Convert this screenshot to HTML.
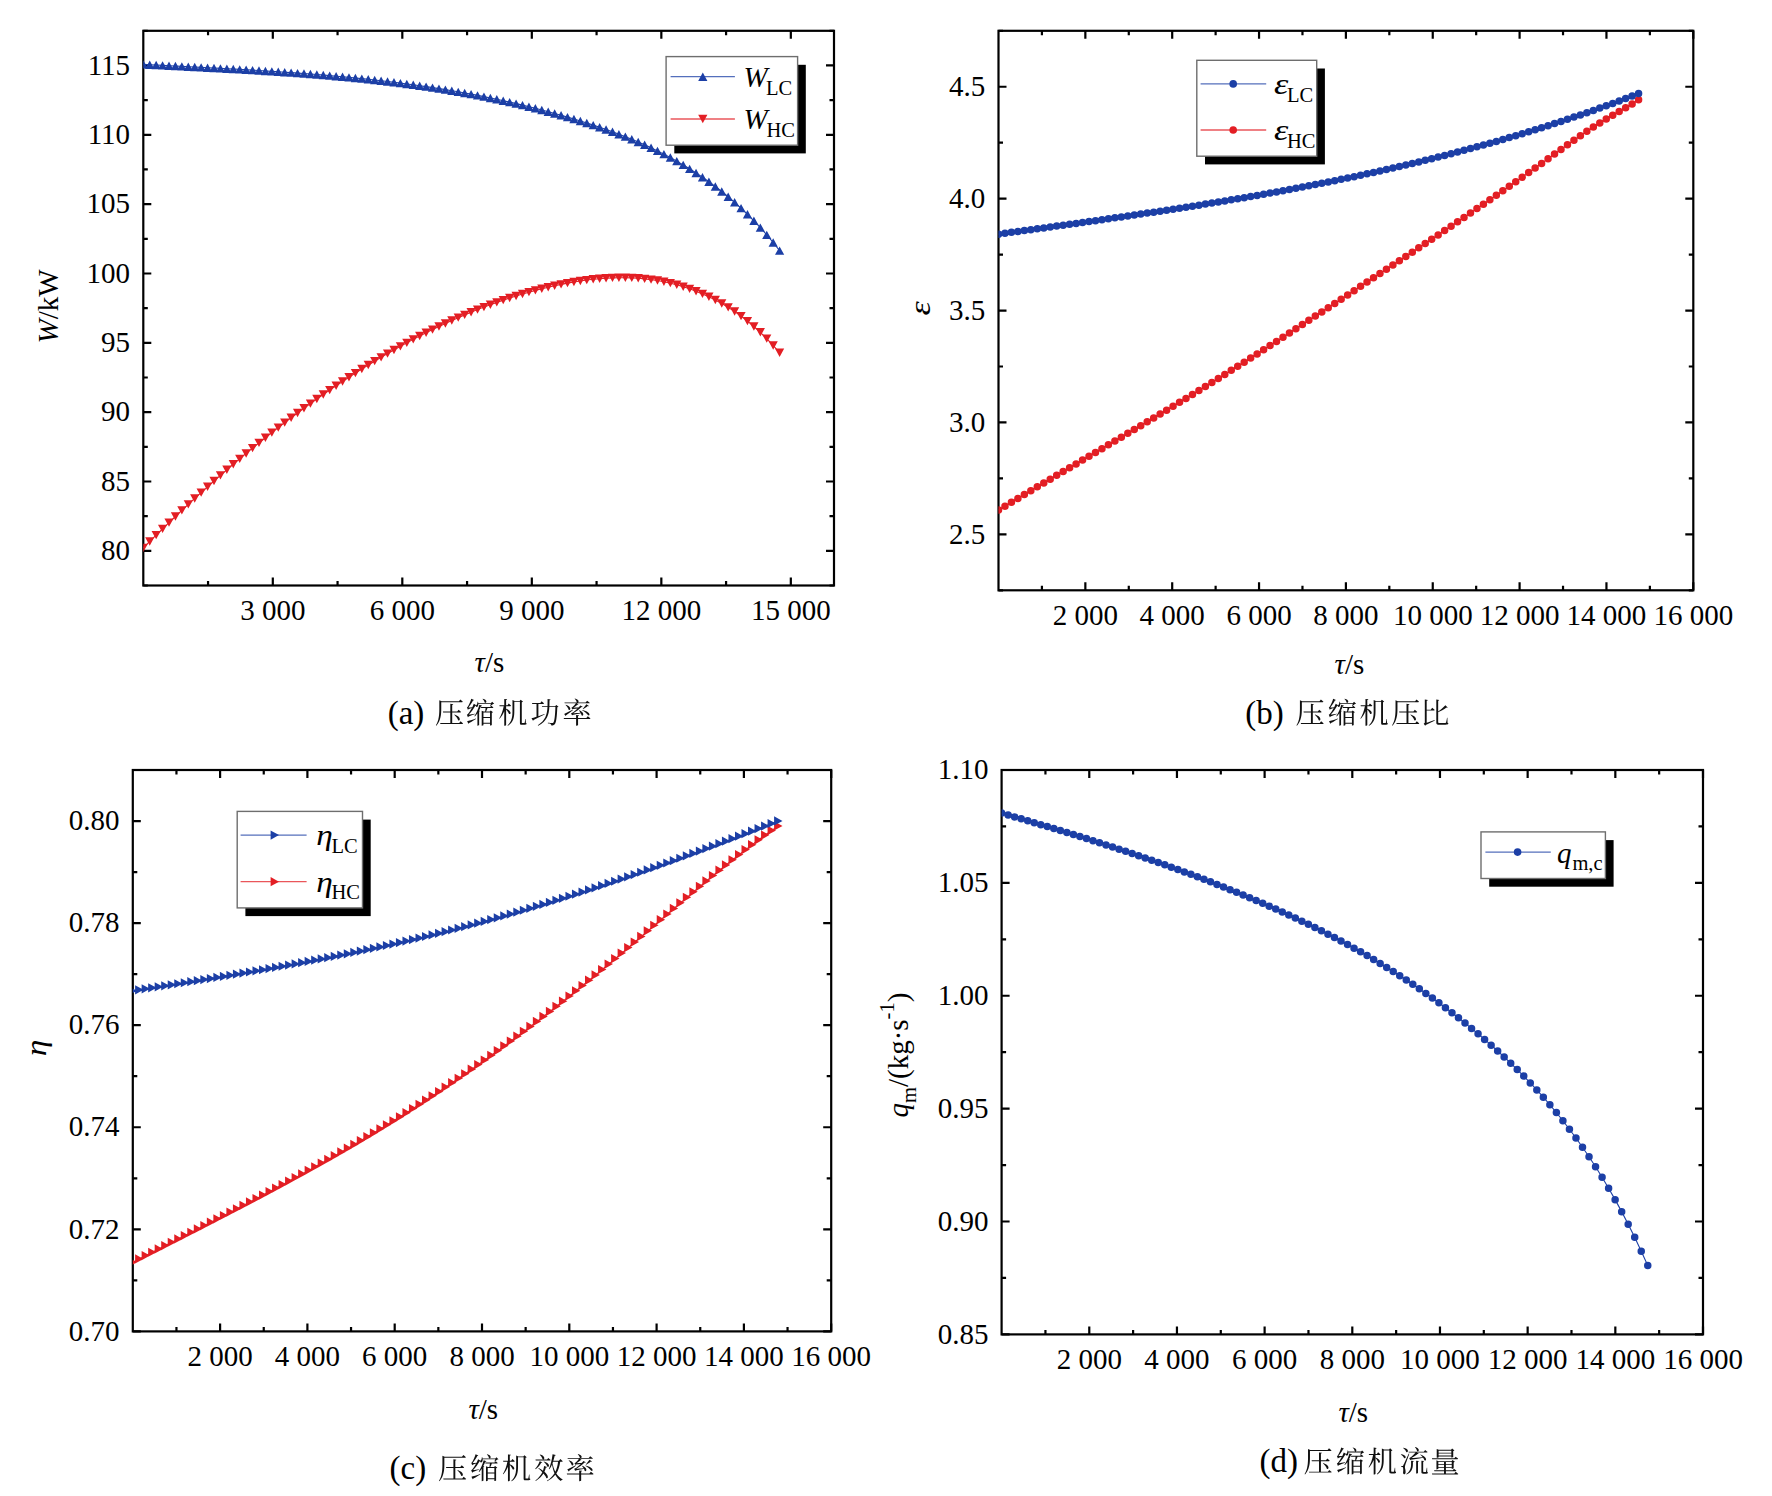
<!DOCTYPE html><html><head><meta charset='utf-8'><style>html,body{margin:0;padding:0;background:#fff;}svg{display:block}</style></head><body>
<svg width='1772' height='1496' viewBox='0 0 1772 1496'>
<rect width='1772' height='1496' fill='#fff'/>
<defs><clipPath id='ca'><rect x='143.3' y='30.8' width='690.7' height='554.7'/></clipPath><clipPath id='cb'><rect x='998.5' y='30.8' width='694.8' height='559.5'/></clipPath><clipPath id='cc'><rect x='132.8' y='770' width='698.4' height='561.4'/></clipPath><clipPath id='cd'><rect x='1001.6' y='770' width='701.4' height='564.4'/></clipPath></defs>
<rect x='143.3' y='30.8' width='690.7' height='554.7' fill='none' stroke='#000' stroke-width='2.2'/>
<path d='M272.81 585.5v-8M272.81 30.8v8M402.31 585.5v-8M402.31 30.8v8M531.82 585.5v-8M531.82 30.8v8M661.33 585.5v-8M661.33 30.8v8M790.83 585.5v-8M790.83 30.8v8M208.05 585.5v-4.5M208.05 30.8v4.5M337.56 585.5v-4.5M337.56 30.8v4.5M467.07 585.5v-4.5M467.07 30.8v4.5M596.57 585.5v-4.5M596.57 30.8v4.5M726.08 585.5v-4.5M726.08 30.8v4.5M143.3 550.83h8M834 550.83h-8M143.3 481.49h8M834 481.49h-8M143.3 412.16h8M834 412.16h-8M143.3 342.82h8M834 342.82h-8M143.3 273.48h8M834 273.48h-8M143.3 204.14h8M834 204.14h-8M143.3 134.81h8M834 134.81h-8M143.3 65.47h8M834 65.47h-8M143.3 585.5h4.5M834 585.5h-4.5M143.3 516.16h4.5M834 516.16h-4.5M143.3 446.82h4.5M834 446.82h-4.5M143.3 377.49h4.5M834 377.49h-4.5M143.3 308.15h4.5M834 308.15h-4.5M143.3 238.81h4.5M834 238.81h-4.5M143.3 169.47h4.5M834 169.47h-4.5M143.3 100.14h4.5M834 100.14h-4.5M143.3 30.8h4.5M834 30.8h-4.5' stroke='#000' stroke-width='2.2' fill='none'/>
<text x='272.81' y='620.4' font-family='Liberation Serif' font-size='29' text-anchor='middle'>3 000</text>
<text x='402.31' y='620.4' font-family='Liberation Serif' font-size='29' text-anchor='middle'>6 000</text>
<text x='531.82' y='620.4' font-family='Liberation Serif' font-size='29' text-anchor='middle'>9 000</text>
<text x='661.33' y='620.4' font-family='Liberation Serif' font-size='29' text-anchor='middle'>12 000</text>
<text x='790.83' y='620.4' font-family='Liberation Serif' font-size='29' text-anchor='middle'>15 000</text>
<text x='130.1' y='560.03' font-family='Liberation Serif' font-size='29' text-anchor='end'>80</text>
<text x='130.1' y='490.69' font-family='Liberation Serif' font-size='29' text-anchor='end'>85</text>
<text x='130.1' y='421.36' font-family='Liberation Serif' font-size='29' text-anchor='end'>90</text>
<text x='130.1' y='352.02' font-family='Liberation Serif' font-size='29' text-anchor='end'>95</text>
<text x='130.1' y='282.68' font-family='Liberation Serif' font-size='29' text-anchor='end'>100</text>
<text x='130.1' y='213.34' font-family='Liberation Serif' font-size='29' text-anchor='end'>105</text>
<text x='130.1' y='144.01' font-family='Liberation Serif' font-size='29' text-anchor='end'>110</text>
<text x='130.1' y='74.67' font-family='Liberation Serif' font-size='29' text-anchor='end'>115</text>
<rect x='998.5' y='30.8' width='694.8' height='559.5' fill='none' stroke='#000' stroke-width='2.2'/>
<path d='M1085.35 590.3v-8M1085.35 30.8v8M1172.2 590.3v-8M1172.2 30.8v8M1259.05 590.3v-8M1259.05 30.8v8M1345.9 590.3v-8M1345.9 30.8v8M1432.75 590.3v-8M1432.75 30.8v8M1519.6 590.3v-8M1519.6 30.8v8M1606.45 590.3v-8M1606.45 30.8v8M1693.3 590.3v-8M1693.3 30.8v8M1041.92 590.3v-4.5M1041.92 30.8v4.5M1128.78 590.3v-4.5M1128.78 30.8v4.5M1215.62 590.3v-4.5M1215.62 30.8v4.5M1302.47 590.3v-4.5M1302.47 30.8v4.5M1389.33 590.3v-4.5M1389.33 30.8v4.5M1476.17 590.3v-4.5M1476.17 30.8v4.5M1563.03 590.3v-4.5M1563.03 30.8v4.5M1649.88 590.3v-4.5M1649.88 30.8v4.5M998.5 534.35h8M1693.3 534.35h-8M998.5 422.45h8M1693.3 422.45h-8M998.5 310.55h8M1693.3 310.55h-8M998.5 198.65h8M1693.3 198.65h-8M998.5 86.75h8M1693.3 86.75h-8M998.5 590.3h4.5M1693.3 590.3h-4.5M998.5 478.4h4.5M1693.3 478.4h-4.5M998.5 366.5h4.5M1693.3 366.5h-4.5M998.5 254.6h4.5M1693.3 254.6h-4.5M998.5 142.7h4.5M1693.3 142.7h-4.5M998.5 30.8h4.5M1693.3 30.8h-4.5' stroke='#000' stroke-width='2.2' fill='none'/>
<text x='1085.35' y='625.2' font-family='Liberation Serif' font-size='29' text-anchor='middle'>2 000</text>
<text x='1172.2' y='625.2' font-family='Liberation Serif' font-size='29' text-anchor='middle'>4 000</text>
<text x='1259.05' y='625.2' font-family='Liberation Serif' font-size='29' text-anchor='middle'>6 000</text>
<text x='1345.9' y='625.2' font-family='Liberation Serif' font-size='29' text-anchor='middle'>8 000</text>
<text x='1432.75' y='625.2' font-family='Liberation Serif' font-size='29' text-anchor='middle'>10 000</text>
<text x='1519.6' y='625.2' font-family='Liberation Serif' font-size='29' text-anchor='middle'>12 000</text>
<text x='1606.45' y='625.2' font-family='Liberation Serif' font-size='29' text-anchor='middle'>14 000</text>
<text x='1693.3' y='625.2' font-family='Liberation Serif' font-size='29' text-anchor='middle'>16 000</text>
<text x='985.3' y='543.55' font-family='Liberation Serif' font-size='29' text-anchor='end'>2.5</text>
<text x='985.3' y='431.65' font-family='Liberation Serif' font-size='29' text-anchor='end'>3.0</text>
<text x='985.3' y='319.75' font-family='Liberation Serif' font-size='29' text-anchor='end'>3.5</text>
<text x='985.3' y='207.85' font-family='Liberation Serif' font-size='29' text-anchor='end'>4.0</text>
<text x='985.3' y='95.95' font-family='Liberation Serif' font-size='29' text-anchor='end'>4.5</text>
<rect x='132.8' y='770' width='698.4' height='561.4' fill='none' stroke='#000' stroke-width='2.2'/>
<path d='M220.1 1331.4v-8M220.1 770v8M307.4 1331.4v-8M307.4 770v8M394.7 1331.4v-8M394.7 770v8M482 1331.4v-8M482 770v8M569.3 1331.4v-8M569.3 770v8M656.6 1331.4v-8M656.6 770v8M743.9 1331.4v-8M743.9 770v8M831.2 1331.4v-8M831.2 770v8M176.45 1331.4v-4.5M176.45 770v4.5M263.75 1331.4v-4.5M263.75 770v4.5M351.05 1331.4v-4.5M351.05 770v4.5M438.35 1331.4v-4.5M438.35 770v4.5M525.65 1331.4v-4.5M525.65 770v4.5M612.95 1331.4v-4.5M612.95 770v4.5M700.25 1331.4v-4.5M700.25 770v4.5M787.55 1331.4v-4.5M787.55 770v4.5M132.8 1331.4h8M831.2 1331.4h-8M132.8 1229.33h8M831.2 1229.33h-8M132.8 1127.25h8M831.2 1127.25h-8M132.8 1025.18h8M831.2 1025.18h-8M132.8 923.11h8M831.2 923.11h-8M132.8 821.04h8M831.2 821.04h-8M132.8 1280.36h4.5M831.2 1280.36h-4.5M132.8 1178.29h4.5M831.2 1178.29h-4.5M132.8 1076.22h4.5M831.2 1076.22h-4.5M132.8 974.15h4.5M831.2 974.15h-4.5M132.8 872.07h4.5M831.2 872.07h-4.5M132.8 770h4.5M831.2 770h-4.5' stroke='#000' stroke-width='2.2' fill='none'/>
<text x='220.1' y='1366.3' font-family='Liberation Serif' font-size='29' text-anchor='middle'>2 000</text>
<text x='307.4' y='1366.3' font-family='Liberation Serif' font-size='29' text-anchor='middle'>4 000</text>
<text x='394.7' y='1366.3' font-family='Liberation Serif' font-size='29' text-anchor='middle'>6 000</text>
<text x='482' y='1366.3' font-family='Liberation Serif' font-size='29' text-anchor='middle'>8 000</text>
<text x='569.3' y='1366.3' font-family='Liberation Serif' font-size='29' text-anchor='middle'>10 000</text>
<text x='656.6' y='1366.3' font-family='Liberation Serif' font-size='29' text-anchor='middle'>12 000</text>
<text x='743.9' y='1366.3' font-family='Liberation Serif' font-size='29' text-anchor='middle'>14 000</text>
<text x='831.2' y='1366.3' font-family='Liberation Serif' font-size='29' text-anchor='middle'>16 000</text>
<text x='119.6' y='1340.6' font-family='Liberation Serif' font-size='29' text-anchor='end'>0.70</text>
<text x='119.6' y='1238.53' font-family='Liberation Serif' font-size='29' text-anchor='end'>0.72</text>
<text x='119.6' y='1136.45' font-family='Liberation Serif' font-size='29' text-anchor='end'>0.74</text>
<text x='119.6' y='1034.38' font-family='Liberation Serif' font-size='29' text-anchor='end'>0.76</text>
<text x='119.6' y='932.31' font-family='Liberation Serif' font-size='29' text-anchor='end'>0.78</text>
<text x='119.6' y='830.24' font-family='Liberation Serif' font-size='29' text-anchor='end'>0.80</text>
<rect x='1001.6' y='770' width='701.4' height='564.4' fill='none' stroke='#000' stroke-width='2.2'/>
<path d='M1089.28 1334.4v-8M1089.28 770v8M1176.95 1334.4v-8M1176.95 770v8M1264.62 1334.4v-8M1264.62 770v8M1352.3 1334.4v-8M1352.3 770v8M1439.97 1334.4v-8M1439.97 770v8M1527.65 1334.4v-8M1527.65 770v8M1615.33 1334.4v-8M1615.33 770v8M1703 1334.4v-8M1703 770v8M1045.44 1334.4v-4.5M1045.44 770v4.5M1133.11 1334.4v-4.5M1133.11 770v4.5M1220.79 1334.4v-4.5M1220.79 770v4.5M1308.46 1334.4v-4.5M1308.46 770v4.5M1396.14 1334.4v-4.5M1396.14 770v4.5M1483.81 1334.4v-4.5M1483.81 770v4.5M1571.49 1334.4v-4.5M1571.49 770v4.5M1659.16 1334.4v-4.5M1659.16 770v4.5M1001.6 1334.4h8M1703 1334.4h-8M1001.6 1221.52h8M1703 1221.52h-8M1001.6 1108.64h8M1703 1108.64h-8M1001.6 995.76h8M1703 995.76h-8M1001.6 882.88h8M1703 882.88h-8M1001.6 770h8M1703 770h-8M1001.6 1277.96h4.5M1703 1277.96h-4.5M1001.6 1165.08h4.5M1703 1165.08h-4.5M1001.6 1052.2h4.5M1703 1052.2h-4.5M1001.6 939.32h4.5M1703 939.32h-4.5M1001.6 826.44h4.5M1703 826.44h-4.5' stroke='#000' stroke-width='2.2' fill='none'/>
<text x='1089.28' y='1369.3' font-family='Liberation Serif' font-size='29' text-anchor='middle'>2 000</text>
<text x='1176.95' y='1369.3' font-family='Liberation Serif' font-size='29' text-anchor='middle'>4 000</text>
<text x='1264.62' y='1369.3' font-family='Liberation Serif' font-size='29' text-anchor='middle'>6 000</text>
<text x='1352.3' y='1369.3' font-family='Liberation Serif' font-size='29' text-anchor='middle'>8 000</text>
<text x='1439.97' y='1369.3' font-family='Liberation Serif' font-size='29' text-anchor='middle'>10 000</text>
<text x='1527.65' y='1369.3' font-family='Liberation Serif' font-size='29' text-anchor='middle'>12 000</text>
<text x='1615.33' y='1369.3' font-family='Liberation Serif' font-size='29' text-anchor='middle'>14 000</text>
<text x='1703' y='1369.3' font-family='Liberation Serif' font-size='29' text-anchor='middle'>16 000</text>
<text x='988.4' y='1343.6' font-family='Liberation Serif' font-size='29' text-anchor='end'>0.85</text>
<text x='988.4' y='1230.72' font-family='Liberation Serif' font-size='29' text-anchor='end'>0.90</text>
<text x='988.4' y='1117.84' font-family='Liberation Serif' font-size='29' text-anchor='end'>0.95</text>
<text x='988.4' y='1004.96' font-family='Liberation Serif' font-size='29' text-anchor='end'>1.00</text>
<text x='988.4' y='892.08' font-family='Liberation Serif' font-size='29' text-anchor='end'>1.05</text>
<text x='988.4' y='779.2' font-family='Liberation Serif' font-size='29' text-anchor='end'>1.10</text>
<g clip-path='url(#ca)'>
<polyline points='143.3,547.89 149.73,541.48 156.15,535.13 162.58,528.85 169.01,522.64 175.44,516.5 181.86,510.42 188.29,504.41 194.72,498.47 201.15,492.6 207.57,486.8 214,481.06 220.43,475.4 226.86,469.81 233.28,464.28 239.71,458.83 246.14,453.45 252.56,448.14 258.99,442.9 265.42,437.73 271.85,432.64 278.27,427.62 284.7,422.67 291.13,417.79 297.56,412.98 303.98,408.25 310.41,403.6 316.84,399.02 323.27,394.51 329.69,390.08 336.12,385.72 342.55,381.44 348.98,377.23 355.4,373.1 361.83,369.05 368.26,365.07 374.68,361.17 381.11,357.34 387.54,353.6 393.97,349.93 400.39,346.34 406.82,342.83 413.25,339.39 419.68,336.04 426.1,332.77 432.53,329.58 438.96,326.47 445.39,323.44 451.81,320.5 458.24,317.64 464.67,314.87 471.09,312.19 477.52,309.6 483.95,307.09 490.38,304.68 496.8,302.36 503.23,300.13 509.66,297.99 516.09,295.95 522.51,294.01 528.94,292.16 535.37,290.4 541.8,288.75 548.22,287.2 554.65,285.74 561.08,284.39 567.5,283.14 573.93,282 580.36,280.98 586.79,280.08 593.21,279.31 599.64,278.68 606.07,278.2 612.5,277.87 618.92,277.71 625.35,277.71 631.78,277.9 638.21,278.27 644.63,278.83 651.06,279.6 657.49,280.57 663.92,281.76 670.34,283.17 676.77,284.82 683.2,286.71 689.62,288.84 696.05,291.23 702.48,293.89 708.91,296.81 715.33,300.02 721.76,303.52 728.19,307.36 734.62,311.55 741.04,316.11 747.47,321.08 753.9,326.48 760.33,332.32 766.75,338.64 773.18,345.47 779.61,352.82' fill='none' stroke='#e31e24' stroke-width='1.1'/>
<path d='M138.7 543.69L147.9 543.69L143.3 552.09ZM145.13 537.28L154.33 537.28L149.73 545.68ZM151.55 530.93L160.75 530.93L156.15 539.33ZM157.98 524.65L167.18 524.65L162.58 533.05ZM164.41 518.44L173.61 518.44L169.01 526.84ZM170.84 512.3L180.04 512.3L175.44 520.7ZM177.26 506.22L186.46 506.22L181.86 514.62ZM183.69 500.21L192.89 500.21L188.29 508.61ZM190.12 494.27L199.32 494.27L194.72 502.67ZM196.55 488.4L205.75 488.4L201.15 496.8ZM202.97 482.6L212.17 482.6L207.57 491ZM209.4 476.86L218.6 476.86L214 485.26ZM215.83 471.2L225.03 471.2L220.43 479.6ZM222.26 465.61L231.46 465.61L226.86 474.01ZM228.68 460.08L237.88 460.08L233.28 468.48ZM235.11 454.63L244.31 454.63L239.71 463.03ZM241.54 449.25L250.74 449.25L246.14 457.65ZM247.96 443.94L257.16 443.94L252.56 452.34ZM254.39 438.7L263.59 438.7L258.99 447.1ZM260.82 433.53L270.02 433.53L265.42 441.93ZM267.25 428.44L276.45 428.44L271.85 436.84ZM273.67 423.42L282.87 423.42L278.27 431.82ZM280.1 418.47L289.3 418.47L284.7 426.87ZM286.53 413.59L295.73 413.59L291.13 421.99ZM292.96 408.78L302.16 408.78L297.56 417.18ZM299.38 404.05L308.58 404.05L303.98 412.45ZM305.81 399.4L315.01 399.4L310.41 407.8ZM312.24 394.82L321.44 394.82L316.84 403.22ZM318.67 390.31L327.87 390.31L323.27 398.71ZM325.09 385.88L334.29 385.88L329.69 394.28ZM331.52 381.52L340.72 381.52L336.12 389.92ZM337.95 377.24L347.15 377.24L342.55 385.64ZM344.38 373.03L353.58 373.03L348.98 381.43ZM350.8 368.9L360 368.9L355.4 377.3ZM357.23 364.85L366.43 364.85L361.83 373.25ZM363.66 360.87L372.86 360.87L368.26 369.27ZM370.08 356.97L379.28 356.97L374.68 365.37ZM376.51 353.14L385.71 353.14L381.11 361.54ZM382.94 349.4L392.14 349.4L387.54 357.8ZM389.37 345.73L398.57 345.73L393.97 354.13ZM395.79 342.14L404.99 342.14L400.39 350.54ZM402.22 338.63L411.42 338.63L406.82 347.03ZM408.65 335.19L417.85 335.19L413.25 343.59ZM415.08 331.84L424.28 331.84L419.68 340.24ZM421.5 328.57L430.7 328.57L426.1 336.97ZM427.93 325.38L437.13 325.38L432.53 333.78ZM434.36 322.27L443.56 322.27L438.96 330.67ZM440.79 319.24L449.99 319.24L445.39 327.64ZM447.21 316.3L456.41 316.3L451.81 324.7ZM453.64 313.44L462.84 313.44L458.24 321.84ZM460.07 310.67L469.27 310.67L464.67 319.07ZM466.49 307.99L475.69 307.99L471.09 316.39ZM472.92 305.4L482.12 305.4L477.52 313.8ZM479.35 302.89L488.55 302.89L483.95 311.29ZM485.78 300.48L494.98 300.48L490.38 308.88ZM492.2 298.16L501.4 298.16L496.8 306.56ZM498.63 295.93L507.83 295.93L503.23 304.33ZM505.06 293.79L514.26 293.79L509.66 302.19ZM511.49 291.75L520.69 291.75L516.09 300.15ZM517.91 289.81L527.11 289.81L522.51 298.21ZM524.34 287.96L533.54 287.96L528.94 296.36ZM530.77 286.2L539.97 286.2L535.37 294.6ZM537.2 284.55L546.4 284.55L541.8 292.95ZM543.62 283L552.82 283L548.22 291.4ZM550.05 281.54L559.25 281.54L554.65 289.94ZM556.48 280.19L565.68 280.19L561.08 288.59ZM562.9 278.94L572.1 278.94L567.5 287.34ZM569.33 277.8L578.53 277.8L573.93 286.2ZM575.76 276.78L584.96 276.78L580.36 285.18ZM582.19 275.88L591.39 275.88L586.79 284.28ZM588.61 275.11L597.81 275.11L593.21 283.51ZM595.04 274.48L604.24 274.48L599.64 282.88ZM601.47 274L610.67 274L606.07 282.4ZM607.9 273.67L617.1 273.67L612.5 282.07ZM614.32 273.51L623.52 273.51L618.92 281.91ZM620.75 273.51L629.95 273.51L625.35 281.91ZM627.18 273.7L636.38 273.7L631.78 282.1ZM633.61 274.07L642.81 274.07L638.21 282.47ZM640.03 274.63L649.23 274.63L644.63 283.03ZM646.46 275.4L655.66 275.4L651.06 283.8ZM652.89 276.37L662.09 276.37L657.49 284.77ZM659.32 277.56L668.52 277.56L663.92 285.96ZM665.74 278.97L674.94 278.97L670.34 287.37ZM672.17 280.62L681.37 280.62L676.77 289.02ZM678.6 282.51L687.8 282.51L683.2 290.91ZM685.02 284.64L694.22 284.64L689.62 293.04ZM691.45 287.03L700.65 287.03L696.05 295.43ZM697.88 289.69L707.08 289.69L702.48 298.09ZM704.31 292.61L713.51 292.61L708.91 301.01ZM710.73 295.82L719.93 295.82L715.33 304.22ZM717.16 299.32L726.36 299.32L721.76 307.72ZM723.59 303.16L732.79 303.16L728.19 311.56ZM730.02 307.35L739.22 307.35L734.62 315.75ZM736.44 311.91L745.64 311.91L741.04 320.31ZM742.87 316.88L752.07 316.88L747.47 325.28ZM749.3 322.28L758.5 322.28L753.9 330.68ZM755.73 328.12L764.93 328.12L760.33 336.52ZM762.15 334.44L771.35 334.44L766.75 342.84ZM768.58 341.27L777.78 341.27L773.18 349.67ZM775.01 348.62L784.21 348.62L779.61 357.02Z' fill='#e31e24'/>
</g>
<g clip-path='url(#ca)'>
<polyline points='143.3,64.36 149.73,64.71 156.15,65.04 162.58,65.38 169.01,65.71 175.44,66.04 181.86,66.37 188.29,66.7 194.72,67.03 201.15,67.36 207.57,67.69 214,68.03 220.43,68.37 226.86,68.71 233.28,69.06 239.71,69.42 246.14,69.78 252.56,70.16 258.99,70.54 265.42,70.93 271.85,71.34 278.27,71.75 284.7,72.18 291.13,72.62 297.56,73.08 303.98,73.55 310.41,74.04 316.84,74.55 323.27,75.07 329.69,75.62 336.12,76.18 342.55,76.76 348.98,77.37 355.4,78 361.83,78.65 368.26,79.32 374.68,80.02 381.11,80.75 387.54,81.51 393.97,82.29 400.39,83.1 406.82,83.94 413.25,84.81 419.68,85.71 426.1,86.64 432.53,87.61 438.96,88.61 445.39,89.65 451.81,90.72 458.24,91.83 464.67,92.97 471.09,94.16 477.52,95.38 483.95,96.65 490.38,97.95 496.8,99.3 503.23,100.68 509.66,102.12 516.09,103.59 522.51,105.12 528.94,106.69 535.37,108.3 541.8,109.97 548.22,111.68 554.65,113.44 561.08,115.25 567.5,117.12 573.93,119.04 580.36,121.01 586.79,123.03 593.21,125.12 599.64,127.26 606.07,129.48 612.5,131.79 618.92,134.18 625.35,136.67 631.78,139.27 638.21,141.99 644.63,144.82 651.06,147.79 657.49,150.9 663.92,154.16 670.34,157.57 676.77,161.15 683.2,164.9 689.62,168.83 696.05,172.96 702.48,177.28 708.91,181.8 715.33,186.55 721.76,191.53 728.19,196.77 734.62,202.3 741.04,208.12 747.47,214.27 753.9,220.76 760.33,227.61 766.75,234.86 773.18,242.51 779.61,250.58' fill='none' stroke='#1c3fa6' stroke-width='1.1'/>
<path d='M143.3 60.16L147.9 68.56L138.7 68.56ZM149.73 60.51L154.33 68.91L145.13 68.91ZM156.15 60.84L160.75 69.24L151.55 69.24ZM162.58 61.18L167.18 69.58L157.98 69.58ZM169.01 61.51L173.61 69.91L164.41 69.91ZM175.44 61.84L180.04 70.24L170.84 70.24ZM181.86 62.17L186.46 70.57L177.26 70.57ZM188.29 62.5L192.89 70.9L183.69 70.9ZM194.72 62.83L199.32 71.23L190.12 71.23ZM201.15 63.16L205.75 71.56L196.55 71.56ZM207.57 63.49L212.17 71.89L202.97 71.89ZM214 63.83L218.6 72.23L209.4 72.23ZM220.43 64.17L225.03 72.57L215.83 72.57ZM226.86 64.51L231.46 72.91L222.26 72.91ZM233.28 64.86L237.88 73.26L228.68 73.26ZM239.71 65.22L244.31 73.62L235.11 73.62ZM246.14 65.58L250.74 73.98L241.54 73.98ZM252.56 65.96L257.16 74.36L247.96 74.36ZM258.99 66.34L263.59 74.74L254.39 74.74ZM265.42 66.73L270.02 75.13L260.82 75.13ZM271.85 67.14L276.45 75.54L267.25 75.54ZM278.27 67.55L282.87 75.95L273.67 75.95ZM284.7 67.98L289.3 76.38L280.1 76.38ZM291.13 68.42L295.73 76.82L286.53 76.82ZM297.56 68.88L302.16 77.28L292.96 77.28ZM303.98 69.35L308.58 77.75L299.38 77.75ZM310.41 69.84L315.01 78.24L305.81 78.24ZM316.84 70.35L321.44 78.75L312.24 78.75ZM323.27 70.87L327.87 79.27L318.67 79.27ZM329.69 71.42L334.29 79.82L325.09 79.82ZM336.12 71.98L340.72 80.38L331.52 80.38ZM342.55 72.56L347.15 80.96L337.95 80.96ZM348.98 73.17L353.58 81.57L344.38 81.57ZM355.4 73.8L360 82.2L350.8 82.2ZM361.83 74.45L366.43 82.85L357.23 82.85ZM368.26 75.12L372.86 83.52L363.66 83.52ZM374.68 75.82L379.28 84.22L370.08 84.22ZM381.11 76.55L385.71 84.95L376.51 84.95ZM387.54 77.31L392.14 85.71L382.94 85.71ZM393.97 78.09L398.57 86.49L389.37 86.49ZM400.39 78.9L404.99 87.3L395.79 87.3ZM406.82 79.74L411.42 88.14L402.22 88.14ZM413.25 80.61L417.85 89.01L408.65 89.01ZM419.68 81.51L424.28 89.91L415.08 89.91ZM426.1 82.44L430.7 90.84L421.5 90.84ZM432.53 83.41L437.13 91.81L427.93 91.81ZM438.96 84.41L443.56 92.81L434.36 92.81ZM445.39 85.45L449.99 93.85L440.79 93.85ZM451.81 86.52L456.41 94.92L447.21 94.92ZM458.24 87.63L462.84 96.03L453.64 96.03ZM464.67 88.77L469.27 97.17L460.07 97.17ZM471.09 89.96L475.69 98.36L466.49 98.36ZM477.52 91.18L482.12 99.58L472.92 99.58ZM483.95 92.45L488.55 100.85L479.35 100.85ZM490.38 93.75L494.98 102.15L485.78 102.15ZM496.8 95.1L501.4 103.5L492.2 103.5ZM503.23 96.48L507.83 104.88L498.63 104.88ZM509.66 97.92L514.26 106.32L505.06 106.32ZM516.09 99.39L520.69 107.79L511.49 107.79ZM522.51 100.92L527.11 109.32L517.91 109.32ZM528.94 102.49L533.54 110.89L524.34 110.89ZM535.37 104.1L539.97 112.5L530.77 112.5ZM541.8 105.77L546.4 114.17L537.2 114.17ZM548.22 107.48L552.82 115.88L543.62 115.88ZM554.65 109.24L559.25 117.64L550.05 117.64ZM561.08 111.05L565.68 119.45L556.48 119.45ZM567.5 112.92L572.1 121.32L562.9 121.32ZM573.93 114.84L578.53 123.24L569.33 123.24ZM580.36 116.81L584.96 125.21L575.76 125.21ZM586.79 118.83L591.39 127.23L582.19 127.23ZM593.21 120.92L597.81 129.32L588.61 129.32ZM599.64 123.06L604.24 131.46L595.04 131.46ZM606.07 125.28L610.67 133.68L601.47 133.68ZM612.5 127.59L617.1 135.99L607.9 135.99ZM618.92 129.98L623.52 138.38L614.32 138.38ZM625.35 132.47L629.95 140.87L620.75 140.87ZM631.78 135.07L636.38 143.47L627.18 143.47ZM638.21 137.79L642.81 146.19L633.61 146.19ZM644.63 140.62L649.23 149.02L640.03 149.02ZM651.06 143.59L655.66 151.99L646.46 151.99ZM657.49 146.7L662.09 155.1L652.89 155.1ZM663.92 149.96L668.52 158.36L659.32 158.36ZM670.34 153.37L674.94 161.77L665.74 161.77ZM676.77 156.95L681.37 165.35L672.17 165.35ZM683.2 160.7L687.8 169.1L678.6 169.1ZM689.62 164.63L694.22 173.03L685.02 173.03ZM696.05 168.76L700.65 177.16L691.45 177.16ZM702.48 173.08L707.08 181.48L697.88 181.48ZM708.91 177.6L713.51 186L704.31 186ZM715.33 182.35L719.93 190.75L710.73 190.75ZM721.76 187.33L726.36 195.73L717.16 195.73ZM728.19 192.57L732.79 200.97L723.59 200.97ZM734.62 198.1L739.22 206.5L730.02 206.5ZM741.04 203.92L745.64 212.32L736.44 212.32ZM747.47 210.07L752.07 218.47L742.87 218.47ZM753.9 216.56L758.5 224.96L749.3 224.96ZM760.33 223.41L764.93 231.81L755.73 231.81ZM766.75 230.66L771.35 239.06L762.15 239.06ZM773.18 238.31L777.78 246.71L768.58 246.71ZM779.61 246.38L784.21 254.78L775.01 254.78Z' fill='#1c3fa6'/>
</g>
<g clip-path='url(#cb)'>
<polyline points='998.5,510.12 1004.97,506.21 1011.43,502.32 1017.9,498.44 1024.36,494.57 1030.83,490.71 1037.29,486.86 1043.76,483.02 1050.22,479.19 1056.69,475.36 1063.15,471.54 1069.62,467.72 1076.09,463.91 1082.55,460.1 1089.02,456.28 1095.48,452.47 1101.95,448.66 1108.41,444.84 1114.88,441.02 1121.34,437.19 1127.81,433.36 1134.28,429.52 1140.74,425.68 1147.21,421.82 1153.67,417.95 1160.14,414.07 1166.6,410.18 1173.07,406.28 1179.53,402.36 1186,398.43 1192.46,394.47 1198.93,390.5 1205.4,386.51 1211.86,382.5 1218.33,378.47 1224.79,374.42 1231.26,370.35 1237.72,366.26 1244.19,362.16 1250.65,358.03 1257.12,353.89 1263.59,349.74 1270.05,345.58 1276.52,341.4 1282.98,337.21 1289.45,333 1295.91,328.79 1302.38,324.57 1308.84,320.35 1315.31,316.11 1321.78,311.88 1328.24,307.63 1334.71,303.38 1341.17,299.13 1347.64,294.88 1354.1,290.63 1360.57,286.37 1367.03,282.11 1373.5,277.85 1379.96,273.59 1386.43,269.32 1392.9,265.04 1399.36,260.76 1405.83,256.47 1412.29,252.18 1418.76,247.87 1425.22,243.56 1431.69,239.23 1438.15,234.9 1444.62,230.55 1451.09,226.19 1457.55,221.82 1464.02,217.43 1470.48,213.03 1476.95,208.61 1483.41,204.18 1489.88,199.72 1496.34,195.26 1502.81,190.77 1509.27,186.26 1515.74,181.73 1522.21,177.19 1528.67,172.62 1535.14,168.02 1541.6,163.41 1548.07,158.77 1554.53,154.11 1561,149.45 1567.46,144.82 1573.93,140.24 1580.39,135.74 1586.86,131.34 1593.33,127.07 1599.79,122.96 1606.26,119.02 1612.72,115.27 1619.19,111.6 1625.65,107.87 1632.12,103.93 1638.58,99.65' fill='none' stroke='#e31e24' stroke-width='1.1'/>
<path d='M994.75 510.12a3.75 3.75 0 1 0 7.5 0a3.75 3.75 0 1 0 -7.5 0M1001.22 506.21a3.75 3.75 0 1 0 7.5 0a3.75 3.75 0 1 0 -7.5 0M1007.68 502.32a3.75 3.75 0 1 0 7.5 0a3.75 3.75 0 1 0 -7.5 0M1014.15 498.44a3.75 3.75 0 1 0 7.5 0a3.75 3.75 0 1 0 -7.5 0M1020.61 494.57a3.75 3.75 0 1 0 7.5 0a3.75 3.75 0 1 0 -7.5 0M1027.08 490.71a3.75 3.75 0 1 0 7.5 0a3.75 3.75 0 1 0 -7.5 0M1033.54 486.86a3.75 3.75 0 1 0 7.5 0a3.75 3.75 0 1 0 -7.5 0M1040.01 483.02a3.75 3.75 0 1 0 7.5 0a3.75 3.75 0 1 0 -7.5 0M1046.47 479.19a3.75 3.75 0 1 0 7.5 0a3.75 3.75 0 1 0 -7.5 0M1052.94 475.36a3.75 3.75 0 1 0 7.5 0a3.75 3.75 0 1 0 -7.5 0M1059.4 471.54a3.75 3.75 0 1 0 7.5 0a3.75 3.75 0 1 0 -7.5 0M1065.87 467.72a3.75 3.75 0 1 0 7.5 0a3.75 3.75 0 1 0 -7.5 0M1072.34 463.91a3.75 3.75 0 1 0 7.5 0a3.75 3.75 0 1 0 -7.5 0M1078.8 460.1a3.75 3.75 0 1 0 7.5 0a3.75 3.75 0 1 0 -7.5 0M1085.27 456.28a3.75 3.75 0 1 0 7.5 0a3.75 3.75 0 1 0 -7.5 0M1091.73 452.47a3.75 3.75 0 1 0 7.5 0a3.75 3.75 0 1 0 -7.5 0M1098.2 448.66a3.75 3.75 0 1 0 7.5 0a3.75 3.75 0 1 0 -7.5 0M1104.66 444.84a3.75 3.75 0 1 0 7.5 0a3.75 3.75 0 1 0 -7.5 0M1111.13 441.02a3.75 3.75 0 1 0 7.5 0a3.75 3.75 0 1 0 -7.5 0M1117.59 437.19a3.75 3.75 0 1 0 7.5 0a3.75 3.75 0 1 0 -7.5 0M1124.06 433.36a3.75 3.75 0 1 0 7.5 0a3.75 3.75 0 1 0 -7.5 0M1130.53 429.52a3.75 3.75 0 1 0 7.5 0a3.75 3.75 0 1 0 -7.5 0M1136.99 425.68a3.75 3.75 0 1 0 7.5 0a3.75 3.75 0 1 0 -7.5 0M1143.46 421.82a3.75 3.75 0 1 0 7.5 0a3.75 3.75 0 1 0 -7.5 0M1149.92 417.95a3.75 3.75 0 1 0 7.5 0a3.75 3.75 0 1 0 -7.5 0M1156.39 414.07a3.75 3.75 0 1 0 7.5 0a3.75 3.75 0 1 0 -7.5 0M1162.85 410.18a3.75 3.75 0 1 0 7.5 0a3.75 3.75 0 1 0 -7.5 0M1169.32 406.28a3.75 3.75 0 1 0 7.5 0a3.75 3.75 0 1 0 -7.5 0M1175.78 402.36a3.75 3.75 0 1 0 7.5 0a3.75 3.75 0 1 0 -7.5 0M1182.25 398.43a3.75 3.75 0 1 0 7.5 0a3.75 3.75 0 1 0 -7.5 0M1188.71 394.47a3.75 3.75 0 1 0 7.5 0a3.75 3.75 0 1 0 -7.5 0M1195.18 390.5a3.75 3.75 0 1 0 7.5 0a3.75 3.75 0 1 0 -7.5 0M1201.65 386.51a3.75 3.75 0 1 0 7.5 0a3.75 3.75 0 1 0 -7.5 0M1208.11 382.5a3.75 3.75 0 1 0 7.5 0a3.75 3.75 0 1 0 -7.5 0M1214.58 378.47a3.75 3.75 0 1 0 7.5 0a3.75 3.75 0 1 0 -7.5 0M1221.04 374.42a3.75 3.75 0 1 0 7.5 0a3.75 3.75 0 1 0 -7.5 0M1227.51 370.35a3.75 3.75 0 1 0 7.5 0a3.75 3.75 0 1 0 -7.5 0M1233.97 366.26a3.75 3.75 0 1 0 7.5 0a3.75 3.75 0 1 0 -7.5 0M1240.44 362.16a3.75 3.75 0 1 0 7.5 0a3.75 3.75 0 1 0 -7.5 0M1246.9 358.03a3.75 3.75 0 1 0 7.5 0a3.75 3.75 0 1 0 -7.5 0M1253.37 353.89a3.75 3.75 0 1 0 7.5 0a3.75 3.75 0 1 0 -7.5 0M1259.84 349.74a3.75 3.75 0 1 0 7.5 0a3.75 3.75 0 1 0 -7.5 0M1266.3 345.58a3.75 3.75 0 1 0 7.5 0a3.75 3.75 0 1 0 -7.5 0M1272.77 341.4a3.75 3.75 0 1 0 7.5 0a3.75 3.75 0 1 0 -7.5 0M1279.23 337.21a3.75 3.75 0 1 0 7.5 0a3.75 3.75 0 1 0 -7.5 0M1285.7 333a3.75 3.75 0 1 0 7.5 0a3.75 3.75 0 1 0 -7.5 0M1292.16 328.79a3.75 3.75 0 1 0 7.5 0a3.75 3.75 0 1 0 -7.5 0M1298.63 324.57a3.75 3.75 0 1 0 7.5 0a3.75 3.75 0 1 0 -7.5 0M1305.09 320.35a3.75 3.75 0 1 0 7.5 0a3.75 3.75 0 1 0 -7.5 0M1311.56 316.11a3.75 3.75 0 1 0 7.5 0a3.75 3.75 0 1 0 -7.5 0M1318.03 311.88a3.75 3.75 0 1 0 7.5 0a3.75 3.75 0 1 0 -7.5 0M1324.49 307.63a3.75 3.75 0 1 0 7.5 0a3.75 3.75 0 1 0 -7.5 0M1330.96 303.38a3.75 3.75 0 1 0 7.5 0a3.75 3.75 0 1 0 -7.5 0M1337.42 299.13a3.75 3.75 0 1 0 7.5 0a3.75 3.75 0 1 0 -7.5 0M1343.89 294.88a3.75 3.75 0 1 0 7.5 0a3.75 3.75 0 1 0 -7.5 0M1350.35 290.63a3.75 3.75 0 1 0 7.5 0a3.75 3.75 0 1 0 -7.5 0M1356.82 286.37a3.75 3.75 0 1 0 7.5 0a3.75 3.75 0 1 0 -7.5 0M1363.28 282.11a3.75 3.75 0 1 0 7.5 0a3.75 3.75 0 1 0 -7.5 0M1369.75 277.85a3.75 3.75 0 1 0 7.5 0a3.75 3.75 0 1 0 -7.5 0M1376.21 273.59a3.75 3.75 0 1 0 7.5 0a3.75 3.75 0 1 0 -7.5 0M1382.68 269.32a3.75 3.75 0 1 0 7.5 0a3.75 3.75 0 1 0 -7.5 0M1389.15 265.04a3.75 3.75 0 1 0 7.5 0a3.75 3.75 0 1 0 -7.5 0M1395.61 260.76a3.75 3.75 0 1 0 7.5 0a3.75 3.75 0 1 0 -7.5 0M1402.08 256.47a3.75 3.75 0 1 0 7.5 0a3.75 3.75 0 1 0 -7.5 0M1408.54 252.18a3.75 3.75 0 1 0 7.5 0a3.75 3.75 0 1 0 -7.5 0M1415.01 247.87a3.75 3.75 0 1 0 7.5 0a3.75 3.75 0 1 0 -7.5 0M1421.47 243.56a3.75 3.75 0 1 0 7.5 0a3.75 3.75 0 1 0 -7.5 0M1427.94 239.23a3.75 3.75 0 1 0 7.5 0a3.75 3.75 0 1 0 -7.5 0M1434.4 234.9a3.75 3.75 0 1 0 7.5 0a3.75 3.75 0 1 0 -7.5 0M1440.87 230.55a3.75 3.75 0 1 0 7.5 0a3.75 3.75 0 1 0 -7.5 0M1447.34 226.19a3.75 3.75 0 1 0 7.5 0a3.75 3.75 0 1 0 -7.5 0M1453.8 221.82a3.75 3.75 0 1 0 7.5 0a3.75 3.75 0 1 0 -7.5 0M1460.27 217.43a3.75 3.75 0 1 0 7.5 0a3.75 3.75 0 1 0 -7.5 0M1466.73 213.03a3.75 3.75 0 1 0 7.5 0a3.75 3.75 0 1 0 -7.5 0M1473.2 208.61a3.75 3.75 0 1 0 7.5 0a3.75 3.75 0 1 0 -7.5 0M1479.66 204.18a3.75 3.75 0 1 0 7.5 0a3.75 3.75 0 1 0 -7.5 0M1486.13 199.72a3.75 3.75 0 1 0 7.5 0a3.75 3.75 0 1 0 -7.5 0M1492.59 195.26a3.75 3.75 0 1 0 7.5 0a3.75 3.75 0 1 0 -7.5 0M1499.06 190.77a3.75 3.75 0 1 0 7.5 0a3.75 3.75 0 1 0 -7.5 0M1505.52 186.26a3.75 3.75 0 1 0 7.5 0a3.75 3.75 0 1 0 -7.5 0M1511.99 181.73a3.75 3.75 0 1 0 7.5 0a3.75 3.75 0 1 0 -7.5 0M1518.46 177.19a3.75 3.75 0 1 0 7.5 0a3.75 3.75 0 1 0 -7.5 0M1524.92 172.62a3.75 3.75 0 1 0 7.5 0a3.75 3.75 0 1 0 -7.5 0M1531.39 168.02a3.75 3.75 0 1 0 7.5 0a3.75 3.75 0 1 0 -7.5 0M1537.85 163.41a3.75 3.75 0 1 0 7.5 0a3.75 3.75 0 1 0 -7.5 0M1544.32 158.77a3.75 3.75 0 1 0 7.5 0a3.75 3.75 0 1 0 -7.5 0M1550.78 154.11a3.75 3.75 0 1 0 7.5 0a3.75 3.75 0 1 0 -7.5 0M1557.25 149.45a3.75 3.75 0 1 0 7.5 0a3.75 3.75 0 1 0 -7.5 0M1563.71 144.82a3.75 3.75 0 1 0 7.5 0a3.75 3.75 0 1 0 -7.5 0M1570.18 140.24a3.75 3.75 0 1 0 7.5 0a3.75 3.75 0 1 0 -7.5 0M1576.64 135.74a3.75 3.75 0 1 0 7.5 0a3.75 3.75 0 1 0 -7.5 0M1583.11 131.34a3.75 3.75 0 1 0 7.5 0a3.75 3.75 0 1 0 -7.5 0M1589.58 127.07a3.75 3.75 0 1 0 7.5 0a3.75 3.75 0 1 0 -7.5 0M1596.04 122.96a3.75 3.75 0 1 0 7.5 0a3.75 3.75 0 1 0 -7.5 0M1602.51 119.02a3.75 3.75 0 1 0 7.5 0a3.75 3.75 0 1 0 -7.5 0M1608.97 115.27a3.75 3.75 0 1 0 7.5 0a3.75 3.75 0 1 0 -7.5 0M1615.44 111.6a3.75 3.75 0 1 0 7.5 0a3.75 3.75 0 1 0 -7.5 0M1621.9 107.87a3.75 3.75 0 1 0 7.5 0a3.75 3.75 0 1 0 -7.5 0M1628.37 103.93a3.75 3.75 0 1 0 7.5 0a3.75 3.75 0 1 0 -7.5 0M1634.83 99.65a3.75 3.75 0 1 0 7.5 0a3.75 3.75 0 1 0 -7.5 0' fill='#e31e24'/>
</g>
<g clip-path='url(#cb)'>
<polyline points='998.5,234.15 1004.97,233.26 1011.43,232.37 1017.9,231.48 1024.36,230.58 1030.83,229.69 1037.29,228.8 1043.76,227.9 1050.22,227.01 1056.69,226.11 1063.15,225.21 1069.62,224.3 1076.09,223.4 1082.55,222.49 1089.02,221.57 1095.48,220.65 1101.95,219.73 1108.41,218.8 1114.88,217.87 1121.34,216.93 1127.81,215.99 1134.28,215.04 1140.74,214.09 1147.21,213.12 1153.67,212.15 1160.14,211.18 1166.6,210.19 1173.07,209.2 1179.53,208.19 1186,207.18 1192.46,206.16 1198.93,205.13 1205.4,204.09 1211.86,203.04 1218.33,201.98 1224.79,200.91 1231.26,199.83 1237.72,198.73 1244.19,197.63 1250.65,196.51 1257.12,195.38 1263.59,194.23 1270.05,193.07 1276.52,191.9 1282.98,190.71 1289.45,189.51 1295.91,188.3 1302.38,187.07 1308.84,185.82 1315.31,184.56 1321.78,183.28 1328.24,181.99 1334.71,180.67 1341.17,179.34 1347.64,178 1354.1,176.63 1360.57,175.25 1367.03,173.85 1373.5,172.43 1379.96,170.99 1386.43,169.53 1392.9,168.05 1399.36,166.55 1405.83,165.03 1412.29,163.49 1418.76,161.93 1425.22,160.34 1431.69,158.74 1438.15,157.11 1444.62,155.46 1451.09,153.78 1457.55,152.08 1464.02,150.36 1470.48,148.61 1476.95,146.84 1483.41,145.05 1489.88,143.23 1496.34,141.38 1502.81,139.51 1509.27,137.61 1515.74,135.68 1522.21,133.73 1528.67,131.75 1535.14,129.74 1541.6,127.71 1548.07,125.65 1554.53,123.55 1561,121.43 1567.46,119.28 1573.93,117.1 1580.39,114.89 1586.86,112.65 1593.33,110.38 1599.79,108.08 1606.26,105.74 1612.72,103.38 1619.19,100.98 1625.65,98.55 1632.12,96.08 1638.58,93.59' fill='none' stroke='#1c3fa6' stroke-width='1.1'/>
<path d='M994.75 234.15a3.75 3.75 0 1 0 7.5 0a3.75 3.75 0 1 0 -7.5 0M1001.22 233.26a3.75 3.75 0 1 0 7.5 0a3.75 3.75 0 1 0 -7.5 0M1007.68 232.37a3.75 3.75 0 1 0 7.5 0a3.75 3.75 0 1 0 -7.5 0M1014.15 231.48a3.75 3.75 0 1 0 7.5 0a3.75 3.75 0 1 0 -7.5 0M1020.61 230.58a3.75 3.75 0 1 0 7.5 0a3.75 3.75 0 1 0 -7.5 0M1027.08 229.69a3.75 3.75 0 1 0 7.5 0a3.75 3.75 0 1 0 -7.5 0M1033.54 228.8a3.75 3.75 0 1 0 7.5 0a3.75 3.75 0 1 0 -7.5 0M1040.01 227.9a3.75 3.75 0 1 0 7.5 0a3.75 3.75 0 1 0 -7.5 0M1046.47 227.01a3.75 3.75 0 1 0 7.5 0a3.75 3.75 0 1 0 -7.5 0M1052.94 226.11a3.75 3.75 0 1 0 7.5 0a3.75 3.75 0 1 0 -7.5 0M1059.4 225.21a3.75 3.75 0 1 0 7.5 0a3.75 3.75 0 1 0 -7.5 0M1065.87 224.3a3.75 3.75 0 1 0 7.5 0a3.75 3.75 0 1 0 -7.5 0M1072.34 223.4a3.75 3.75 0 1 0 7.5 0a3.75 3.75 0 1 0 -7.5 0M1078.8 222.49a3.75 3.75 0 1 0 7.5 0a3.75 3.75 0 1 0 -7.5 0M1085.27 221.57a3.75 3.75 0 1 0 7.5 0a3.75 3.75 0 1 0 -7.5 0M1091.73 220.65a3.75 3.75 0 1 0 7.5 0a3.75 3.75 0 1 0 -7.5 0M1098.2 219.73a3.75 3.75 0 1 0 7.5 0a3.75 3.75 0 1 0 -7.5 0M1104.66 218.8a3.75 3.75 0 1 0 7.5 0a3.75 3.75 0 1 0 -7.5 0M1111.13 217.87a3.75 3.75 0 1 0 7.5 0a3.75 3.75 0 1 0 -7.5 0M1117.59 216.93a3.75 3.75 0 1 0 7.5 0a3.75 3.75 0 1 0 -7.5 0M1124.06 215.99a3.75 3.75 0 1 0 7.5 0a3.75 3.75 0 1 0 -7.5 0M1130.53 215.04a3.75 3.75 0 1 0 7.5 0a3.75 3.75 0 1 0 -7.5 0M1136.99 214.09a3.75 3.75 0 1 0 7.5 0a3.75 3.75 0 1 0 -7.5 0M1143.46 213.12a3.75 3.75 0 1 0 7.5 0a3.75 3.75 0 1 0 -7.5 0M1149.92 212.15a3.75 3.75 0 1 0 7.5 0a3.75 3.75 0 1 0 -7.5 0M1156.39 211.18a3.75 3.75 0 1 0 7.5 0a3.75 3.75 0 1 0 -7.5 0M1162.85 210.19a3.75 3.75 0 1 0 7.5 0a3.75 3.75 0 1 0 -7.5 0M1169.32 209.2a3.75 3.75 0 1 0 7.5 0a3.75 3.75 0 1 0 -7.5 0M1175.78 208.19a3.75 3.75 0 1 0 7.5 0a3.75 3.75 0 1 0 -7.5 0M1182.25 207.18a3.75 3.75 0 1 0 7.5 0a3.75 3.75 0 1 0 -7.5 0M1188.71 206.16a3.75 3.75 0 1 0 7.5 0a3.75 3.75 0 1 0 -7.5 0M1195.18 205.13a3.75 3.75 0 1 0 7.5 0a3.75 3.75 0 1 0 -7.5 0M1201.65 204.09a3.75 3.75 0 1 0 7.5 0a3.75 3.75 0 1 0 -7.5 0M1208.11 203.04a3.75 3.75 0 1 0 7.5 0a3.75 3.75 0 1 0 -7.5 0M1214.58 201.98a3.75 3.75 0 1 0 7.5 0a3.75 3.75 0 1 0 -7.5 0M1221.04 200.91a3.75 3.75 0 1 0 7.5 0a3.75 3.75 0 1 0 -7.5 0M1227.51 199.83a3.75 3.75 0 1 0 7.5 0a3.75 3.75 0 1 0 -7.5 0M1233.97 198.73a3.75 3.75 0 1 0 7.5 0a3.75 3.75 0 1 0 -7.5 0M1240.44 197.63a3.75 3.75 0 1 0 7.5 0a3.75 3.75 0 1 0 -7.5 0M1246.9 196.51a3.75 3.75 0 1 0 7.5 0a3.75 3.75 0 1 0 -7.5 0M1253.37 195.38a3.75 3.75 0 1 0 7.5 0a3.75 3.75 0 1 0 -7.5 0M1259.84 194.23a3.75 3.75 0 1 0 7.5 0a3.75 3.75 0 1 0 -7.5 0M1266.3 193.07a3.75 3.75 0 1 0 7.5 0a3.75 3.75 0 1 0 -7.5 0M1272.77 191.9a3.75 3.75 0 1 0 7.5 0a3.75 3.75 0 1 0 -7.5 0M1279.23 190.71a3.75 3.75 0 1 0 7.5 0a3.75 3.75 0 1 0 -7.5 0M1285.7 189.51a3.75 3.75 0 1 0 7.5 0a3.75 3.75 0 1 0 -7.5 0M1292.16 188.3a3.75 3.75 0 1 0 7.5 0a3.75 3.75 0 1 0 -7.5 0M1298.63 187.07a3.75 3.75 0 1 0 7.5 0a3.75 3.75 0 1 0 -7.5 0M1305.09 185.82a3.75 3.75 0 1 0 7.5 0a3.75 3.75 0 1 0 -7.5 0M1311.56 184.56a3.75 3.75 0 1 0 7.5 0a3.75 3.75 0 1 0 -7.5 0M1318.03 183.28a3.75 3.75 0 1 0 7.5 0a3.75 3.75 0 1 0 -7.5 0M1324.49 181.99a3.75 3.75 0 1 0 7.5 0a3.75 3.75 0 1 0 -7.5 0M1330.96 180.67a3.75 3.75 0 1 0 7.5 0a3.75 3.75 0 1 0 -7.5 0M1337.42 179.34a3.75 3.75 0 1 0 7.5 0a3.75 3.75 0 1 0 -7.5 0M1343.89 178a3.75 3.75 0 1 0 7.5 0a3.75 3.75 0 1 0 -7.5 0M1350.35 176.63a3.75 3.75 0 1 0 7.5 0a3.75 3.75 0 1 0 -7.5 0M1356.82 175.25a3.75 3.75 0 1 0 7.5 0a3.75 3.75 0 1 0 -7.5 0M1363.28 173.85a3.75 3.75 0 1 0 7.5 0a3.75 3.75 0 1 0 -7.5 0M1369.75 172.43a3.75 3.75 0 1 0 7.5 0a3.75 3.75 0 1 0 -7.5 0M1376.21 170.99a3.75 3.75 0 1 0 7.5 0a3.75 3.75 0 1 0 -7.5 0M1382.68 169.53a3.75 3.75 0 1 0 7.5 0a3.75 3.75 0 1 0 -7.5 0M1389.15 168.05a3.75 3.75 0 1 0 7.5 0a3.75 3.75 0 1 0 -7.5 0M1395.61 166.55a3.75 3.75 0 1 0 7.5 0a3.75 3.75 0 1 0 -7.5 0M1402.08 165.03a3.75 3.75 0 1 0 7.5 0a3.75 3.75 0 1 0 -7.5 0M1408.54 163.49a3.75 3.75 0 1 0 7.5 0a3.75 3.75 0 1 0 -7.5 0M1415.01 161.93a3.75 3.75 0 1 0 7.5 0a3.75 3.75 0 1 0 -7.5 0M1421.47 160.34a3.75 3.75 0 1 0 7.5 0a3.75 3.75 0 1 0 -7.5 0M1427.94 158.74a3.75 3.75 0 1 0 7.5 0a3.75 3.75 0 1 0 -7.5 0M1434.4 157.11a3.75 3.75 0 1 0 7.5 0a3.75 3.75 0 1 0 -7.5 0M1440.87 155.46a3.75 3.75 0 1 0 7.5 0a3.75 3.75 0 1 0 -7.5 0M1447.34 153.78a3.75 3.75 0 1 0 7.5 0a3.75 3.75 0 1 0 -7.5 0M1453.8 152.08a3.75 3.75 0 1 0 7.5 0a3.75 3.75 0 1 0 -7.5 0M1460.27 150.36a3.75 3.75 0 1 0 7.5 0a3.75 3.75 0 1 0 -7.5 0M1466.73 148.61a3.75 3.75 0 1 0 7.5 0a3.75 3.75 0 1 0 -7.5 0M1473.2 146.84a3.75 3.75 0 1 0 7.5 0a3.75 3.75 0 1 0 -7.5 0M1479.66 145.05a3.75 3.75 0 1 0 7.5 0a3.75 3.75 0 1 0 -7.5 0M1486.13 143.23a3.75 3.75 0 1 0 7.5 0a3.75 3.75 0 1 0 -7.5 0M1492.59 141.38a3.75 3.75 0 1 0 7.5 0a3.75 3.75 0 1 0 -7.5 0M1499.06 139.51a3.75 3.75 0 1 0 7.5 0a3.75 3.75 0 1 0 -7.5 0M1505.52 137.61a3.75 3.75 0 1 0 7.5 0a3.75 3.75 0 1 0 -7.5 0M1511.99 135.68a3.75 3.75 0 1 0 7.5 0a3.75 3.75 0 1 0 -7.5 0M1518.46 133.73a3.75 3.75 0 1 0 7.5 0a3.75 3.75 0 1 0 -7.5 0M1524.92 131.75a3.75 3.75 0 1 0 7.5 0a3.75 3.75 0 1 0 -7.5 0M1531.39 129.74a3.75 3.75 0 1 0 7.5 0a3.75 3.75 0 1 0 -7.5 0M1537.85 127.71a3.75 3.75 0 1 0 7.5 0a3.75 3.75 0 1 0 -7.5 0M1544.32 125.65a3.75 3.75 0 1 0 7.5 0a3.75 3.75 0 1 0 -7.5 0M1550.78 123.55a3.75 3.75 0 1 0 7.5 0a3.75 3.75 0 1 0 -7.5 0M1557.25 121.43a3.75 3.75 0 1 0 7.5 0a3.75 3.75 0 1 0 -7.5 0M1563.71 119.28a3.75 3.75 0 1 0 7.5 0a3.75 3.75 0 1 0 -7.5 0M1570.18 117.1a3.75 3.75 0 1 0 7.5 0a3.75 3.75 0 1 0 -7.5 0M1576.64 114.89a3.75 3.75 0 1 0 7.5 0a3.75 3.75 0 1 0 -7.5 0M1583.11 112.65a3.75 3.75 0 1 0 7.5 0a3.75 3.75 0 1 0 -7.5 0M1589.58 110.38a3.75 3.75 0 1 0 7.5 0a3.75 3.75 0 1 0 -7.5 0M1596.04 108.08a3.75 3.75 0 1 0 7.5 0a3.75 3.75 0 1 0 -7.5 0M1602.51 105.74a3.75 3.75 0 1 0 7.5 0a3.75 3.75 0 1 0 -7.5 0M1608.97 103.38a3.75 3.75 0 1 0 7.5 0a3.75 3.75 0 1 0 -7.5 0M1615.44 100.98a3.75 3.75 0 1 0 7.5 0a3.75 3.75 0 1 0 -7.5 0M1621.9 98.55a3.75 3.75 0 1 0 7.5 0a3.75 3.75 0 1 0 -7.5 0M1628.37 96.08a3.75 3.75 0 1 0 7.5 0a3.75 3.75 0 1 0 -7.5 0M1634.83 93.59a3.75 3.75 0 1 0 7.5 0a3.75 3.75 0 1 0 -7.5 0' fill='#1c3fa6'/>
</g>
<g clip-path='url(#cc)'>
<polyline points='132.8,1262.25 139.32,1258.91 145.84,1255.57 152.36,1252.24 158.88,1248.91 165.4,1245.58 171.92,1242.25 178.44,1238.92 184.96,1235.59 191.48,1232.26 198,1228.92 204.52,1225.58 211.04,1222.22 217.56,1218.87 224.08,1215.5 230.6,1212.12 237.12,1208.73 243.64,1205.33 250.16,1201.92 256.68,1198.49 263.2,1195.04 269.72,1191.57 276.24,1188.09 282.76,1184.59 289.28,1181.07 295.8,1177.52 302.32,1173.95 308.84,1170.36 315.36,1166.74 321.88,1163.09 328.4,1159.41 334.93,1155.71 341.45,1151.97 347.97,1148.21 354.49,1144.41 361.01,1140.57 367.53,1136.7 374.05,1132.8 380.57,1128.85 387.09,1124.87 393.61,1120.84 400.13,1116.78 406.65,1112.67 413.17,1108.52 419.69,1104.33 426.21,1100.09 432.73,1095.8 439.25,1091.48 445.77,1087.11 452.29,1082.7 458.81,1078.24 465.33,1073.74 471.85,1069.2 478.37,1064.61 484.89,1059.99 491.41,1055.32 497.93,1050.6 504.45,1045.85 510.97,1041.05 517.49,1036.21 524.01,1031.33 530.53,1026.4 537.05,1021.44 543.57,1016.43 550.09,1011.38 556.61,1006.29 563.13,1001.16 569.65,995.98 576.17,990.77 582.69,985.51 589.21,980.22 595.73,974.88 602.25,969.5 608.77,964.08 615.29,958.62 621.81,953.12 628.33,947.59 634.85,942.03 641.37,936.44 647.89,930.84 654.41,925.24 660.93,919.63 667.45,914.03 673.97,908.44 680.49,902.87 687.01,897.32 693.53,891.8 700.05,886.32 706.57,880.89 713.09,875.51 719.61,870.18 726.13,864.92 732.66,859.73 739.18,854.61 745.7,849.58 752.22,844.64 758.74,839.8 765.26,835.06 771.78,830.43 778.3,825.92' fill='none' stroke='#e31e24' stroke-width='1.1'/>
<path d='M128.6 1257.65L137 1262.25L128.6 1266.85ZM135.12 1254.31L143.52 1258.91L135.12 1263.51ZM141.64 1250.97L150.04 1255.57L141.64 1260.17ZM148.16 1247.64L156.56 1252.24L148.16 1256.84ZM154.68 1244.31L163.08 1248.91L154.68 1253.51ZM161.2 1240.98L169.6 1245.58L161.2 1250.18ZM167.72 1237.65L176.12 1242.25L167.72 1246.85ZM174.24 1234.32L182.64 1238.92L174.24 1243.52ZM180.76 1230.99L189.16 1235.59L180.76 1240.19ZM187.28 1227.66L195.68 1232.26L187.28 1236.86ZM193.8 1224.32L202.2 1228.92L193.8 1233.52ZM200.32 1220.98L208.72 1225.58L200.32 1230.18ZM206.84 1217.62L215.24 1222.22L206.84 1226.82ZM213.36 1214.27L221.76 1218.87L213.36 1223.47ZM219.88 1210.9L228.28 1215.5L219.88 1220.1ZM226.4 1207.52L234.8 1212.12L226.4 1216.72ZM232.92 1204.13L241.32 1208.73L232.92 1213.33ZM239.44 1200.73L247.84 1205.33L239.44 1209.93ZM245.96 1197.32L254.36 1201.92L245.96 1206.52ZM252.48 1193.89L260.88 1198.49L252.48 1203.09ZM259 1190.44L267.4 1195.04L259 1199.64ZM265.52 1186.97L273.92 1191.57L265.52 1196.17ZM272.04 1183.49L280.44 1188.09L272.04 1192.69ZM278.56 1179.99L286.96 1184.59L278.56 1189.19ZM285.08 1176.47L293.48 1181.07L285.08 1185.67ZM291.6 1172.92L300 1177.52L291.6 1182.12ZM298.12 1169.35L306.52 1173.95L298.12 1178.55ZM304.64 1165.76L313.04 1170.36L304.64 1174.96ZM311.16 1162.14L319.56 1166.74L311.16 1171.34ZM317.68 1158.49L326.08 1163.09L317.68 1167.69ZM324.2 1154.81L332.6 1159.41L324.2 1164.01ZM330.73 1151.11L339.13 1155.71L330.73 1160.31ZM337.25 1147.37L345.65 1151.97L337.25 1156.57ZM343.77 1143.61L352.17 1148.21L343.77 1152.81ZM350.29 1139.81L358.69 1144.41L350.29 1149.01ZM356.81 1135.97L365.21 1140.57L356.81 1145.17ZM363.33 1132.1L371.73 1136.7L363.33 1141.3ZM369.85 1128.2L378.25 1132.8L369.85 1137.4ZM376.37 1124.25L384.77 1128.85L376.37 1133.45ZM382.89 1120.27L391.29 1124.87L382.89 1129.47ZM389.41 1116.24L397.81 1120.84L389.41 1125.44ZM395.93 1112.18L404.33 1116.78L395.93 1121.38ZM402.45 1108.07L410.85 1112.67L402.45 1117.27ZM408.97 1103.92L417.37 1108.52L408.97 1113.12ZM415.49 1099.73L423.89 1104.33L415.49 1108.93ZM422.01 1095.49L430.41 1100.09L422.01 1104.69ZM428.53 1091.2L436.93 1095.8L428.53 1100.4ZM435.05 1086.88L443.45 1091.48L435.05 1096.08ZM441.57 1082.51L449.97 1087.11L441.57 1091.71ZM448.09 1078.1L456.49 1082.7L448.09 1087.3ZM454.61 1073.64L463.01 1078.24L454.61 1082.84ZM461.13 1069.14L469.53 1073.74L461.13 1078.34ZM467.65 1064.6L476.05 1069.2L467.65 1073.8ZM474.17 1060.01L482.57 1064.61L474.17 1069.21ZM480.69 1055.39L489.09 1059.99L480.69 1064.59ZM487.21 1050.72L495.61 1055.32L487.21 1059.92ZM493.73 1046L502.13 1050.6L493.73 1055.2ZM500.25 1041.25L508.65 1045.85L500.25 1050.45ZM506.77 1036.45L515.17 1041.05L506.77 1045.65ZM513.29 1031.61L521.69 1036.21L513.29 1040.81ZM519.81 1026.73L528.21 1031.33L519.81 1035.93ZM526.33 1021.8L534.73 1026.4L526.33 1031ZM532.85 1016.84L541.25 1021.44L532.85 1026.04ZM539.37 1011.83L547.77 1016.43L539.37 1021.03ZM545.89 1006.78L554.29 1011.38L545.89 1015.98ZM552.41 1001.69L560.81 1006.29L552.41 1010.89ZM558.93 996.56L567.33 1001.16L558.93 1005.76ZM565.45 991.38L573.85 995.98L565.45 1000.58ZM571.97 986.17L580.37 990.77L571.97 995.37ZM578.49 980.91L586.89 985.51L578.49 990.11ZM585.01 975.62L593.41 980.22L585.01 984.82ZM591.53 970.28L599.93 974.88L591.53 979.48ZM598.05 964.9L606.45 969.5L598.05 974.1ZM604.57 959.48L612.97 964.08L604.57 968.68ZM611.09 954.02L619.49 958.62L611.09 963.22ZM617.61 948.52L626.01 953.12L617.61 957.72ZM624.13 942.99L632.53 947.59L624.13 952.19ZM630.65 937.43L639.05 942.03L630.65 946.63ZM637.17 931.84L645.57 936.44L637.17 941.04ZM643.69 926.24L652.09 930.84L643.69 935.44ZM650.21 920.64L658.61 925.24L650.21 929.84ZM656.73 915.03L665.13 919.63L656.73 924.23ZM663.25 909.43L671.65 914.03L663.25 918.63ZM669.77 903.84L678.17 908.44L669.77 913.04ZM676.29 898.27L684.69 902.87L676.29 907.47ZM682.81 892.72L691.21 897.32L682.81 901.92ZM689.33 887.2L697.73 891.8L689.33 896.4ZM695.85 881.72L704.25 886.32L695.85 890.92ZM702.37 876.29L710.77 880.89L702.37 885.49ZM708.89 870.91L717.29 875.51L708.89 880.11ZM715.41 865.58L723.81 870.18L715.41 874.78ZM721.93 860.32L730.33 864.92L721.93 869.52ZM728.46 855.13L736.86 859.73L728.46 864.33ZM734.98 850.01L743.38 854.61L734.98 859.21ZM741.5 844.98L749.9 849.58L741.5 854.18ZM748.02 840.04L756.42 844.64L748.02 849.24ZM754.54 835.2L762.94 839.8L754.54 844.4ZM761.06 830.46L769.46 835.06L761.06 839.66ZM767.58 825.83L775.98 830.43L767.58 835.03ZM774.1 821.32L782.5 825.92L774.1 830.52Z' fill='#e31e24'/>
</g>
<g clip-path='url(#cc)'>
<polyline points='132.8,990.87 139.32,989.86 145.84,988.86 152.36,987.85 158.88,986.83 165.4,985.81 171.92,984.79 178.44,983.76 184.96,982.73 191.48,981.69 198,980.64 204.52,979.59 211.04,978.53 217.56,977.46 224.08,976.38 230.6,975.3 237.12,974.21 243.64,973.1 250.16,971.99 256.68,970.87 263.2,969.73 269.72,968.59 276.24,967.43 282.76,966.26 289.28,965.07 295.8,963.88 302.32,962.67 308.84,961.44 315.36,960.21 321.88,958.95 328.4,957.68 334.93,956.4 341.45,955.1 347.97,953.78 354.49,952.44 361.01,951.09 367.53,949.72 374.05,948.33 380.57,946.92 387.09,945.49 393.61,944.04 400.13,942.57 406.65,941.08 413.17,939.57 419.69,938.03 426.21,936.48 432.73,934.9 439.25,933.3 445.77,931.67 452.29,930.02 458.81,928.35 465.33,926.65 471.85,924.92 478.37,923.17 484.89,921.4 491.41,919.6 497.93,917.78 504.45,915.93 510.97,914.07 517.49,912.18 524.01,910.26 530.53,908.33 537.05,906.37 543.57,904.39 550.09,902.39 556.61,900.36 563.13,898.32 569.65,896.26 576.17,894.17 582.69,892.06 589.21,889.94 595.73,887.8 602.25,885.63 608.77,883.45 615.29,881.25 621.81,879.03 628.33,876.79 634.85,874.53 641.37,872.26 647.89,869.97 654.41,867.66 660.93,865.33 667.45,862.99 673.97,860.63 680.49,858.26 687.01,855.87 693.53,853.46 700.05,851.04 706.57,848.6 713.09,846.15 719.61,843.69 726.13,841.21 732.66,838.72 739.18,836.21 745.7,833.69 752.22,831.16 758.74,828.62 765.26,826.06 771.78,823.49 778.3,820.91' fill='none' stroke='#1c3fa6' stroke-width='1.1'/>
<path d='M128.6 986.27L137 990.87L128.6 995.47ZM135.12 985.26L143.52 989.86L135.12 994.46ZM141.64 984.26L150.04 988.86L141.64 993.46ZM148.16 983.25L156.56 987.85L148.16 992.45ZM154.68 982.23L163.08 986.83L154.68 991.43ZM161.2 981.21L169.6 985.81L161.2 990.41ZM167.72 980.19L176.12 984.79L167.72 989.39ZM174.24 979.16L182.64 983.76L174.24 988.36ZM180.76 978.13L189.16 982.73L180.76 987.33ZM187.28 977.09L195.68 981.69L187.28 986.29ZM193.8 976.04L202.2 980.64L193.8 985.24ZM200.32 974.99L208.72 979.59L200.32 984.19ZM206.84 973.93L215.24 978.53L206.84 983.13ZM213.36 972.86L221.76 977.46L213.36 982.06ZM219.88 971.78L228.28 976.38L219.88 980.98ZM226.4 970.7L234.8 975.3L226.4 979.9ZM232.92 969.61L241.32 974.21L232.92 978.81ZM239.44 968.5L247.84 973.1L239.44 977.7ZM245.96 967.39L254.36 971.99L245.96 976.59ZM252.48 966.27L260.88 970.87L252.48 975.47ZM259 965.13L267.4 969.73L259 974.33ZM265.52 963.99L273.92 968.59L265.52 973.19ZM272.04 962.83L280.44 967.43L272.04 972.03ZM278.56 961.66L286.96 966.26L278.56 970.86ZM285.08 960.47L293.48 965.07L285.08 969.67ZM291.6 959.28L300 963.88L291.6 968.48ZM298.12 958.07L306.52 962.67L298.12 967.27ZM304.64 956.84L313.04 961.44L304.64 966.04ZM311.16 955.61L319.56 960.21L311.16 964.81ZM317.68 954.35L326.08 958.95L317.68 963.55ZM324.2 953.08L332.6 957.68L324.2 962.28ZM330.73 951.8L339.13 956.4L330.73 961ZM337.25 950.5L345.65 955.1L337.25 959.7ZM343.77 949.18L352.17 953.78L343.77 958.38ZM350.29 947.84L358.69 952.44L350.29 957.04ZM356.81 946.49L365.21 951.09L356.81 955.69ZM363.33 945.12L371.73 949.72L363.33 954.32ZM369.85 943.73L378.25 948.33L369.85 952.93ZM376.37 942.32L384.77 946.92L376.37 951.52ZM382.89 940.89L391.29 945.49L382.89 950.09ZM389.41 939.44L397.81 944.04L389.41 948.64ZM395.93 937.97L404.33 942.57L395.93 947.17ZM402.45 936.48L410.85 941.08L402.45 945.68ZM408.97 934.97L417.37 939.57L408.97 944.17ZM415.49 933.43L423.89 938.03L415.49 942.63ZM422.01 931.88L430.41 936.48L422.01 941.08ZM428.53 930.3L436.93 934.9L428.53 939.5ZM435.05 928.7L443.45 933.3L435.05 937.9ZM441.57 927.07L449.97 931.67L441.57 936.27ZM448.09 925.42L456.49 930.02L448.09 934.62ZM454.61 923.75L463.01 928.35L454.61 932.95ZM461.13 922.05L469.53 926.65L461.13 931.25ZM467.65 920.32L476.05 924.92L467.65 929.52ZM474.17 918.57L482.57 923.17L474.17 927.77ZM480.69 916.8L489.09 921.4L480.69 926ZM487.21 915L495.61 919.6L487.21 924.2ZM493.73 913.18L502.13 917.78L493.73 922.38ZM500.25 911.33L508.65 915.93L500.25 920.53ZM506.77 909.47L515.17 914.07L506.77 918.67ZM513.29 907.58L521.69 912.18L513.29 916.78ZM519.81 905.66L528.21 910.26L519.81 914.86ZM526.33 903.73L534.73 908.33L526.33 912.93ZM532.85 901.77L541.25 906.37L532.85 910.97ZM539.37 899.79L547.77 904.39L539.37 908.99ZM545.89 897.79L554.29 902.39L545.89 906.99ZM552.41 895.76L560.81 900.36L552.41 904.96ZM558.93 893.72L567.33 898.32L558.93 902.92ZM565.45 891.66L573.85 896.26L565.45 900.86ZM571.97 889.57L580.37 894.17L571.97 898.77ZM578.49 887.46L586.89 892.06L578.49 896.66ZM585.01 885.34L593.41 889.94L585.01 894.54ZM591.53 883.2L599.93 887.8L591.53 892.4ZM598.05 881.03L606.45 885.63L598.05 890.23ZM604.57 878.85L612.97 883.45L604.57 888.05ZM611.09 876.65L619.49 881.25L611.09 885.85ZM617.61 874.43L626.01 879.03L617.61 883.63ZM624.13 872.19L632.53 876.79L624.13 881.39ZM630.65 869.93L639.05 874.53L630.65 879.13ZM637.17 867.66L645.57 872.26L637.17 876.86ZM643.69 865.37L652.09 869.97L643.69 874.57ZM650.21 863.06L658.61 867.66L650.21 872.26ZM656.73 860.73L665.13 865.33L656.73 869.93ZM663.25 858.39L671.65 862.99L663.25 867.59ZM669.77 856.03L678.17 860.63L669.77 865.23ZM676.29 853.66L684.69 858.26L676.29 862.86ZM682.81 851.27L691.21 855.87L682.81 860.47ZM689.33 848.86L697.73 853.46L689.33 858.06ZM695.85 846.44L704.25 851.04L695.85 855.64ZM702.37 844L710.77 848.6L702.37 853.2ZM708.89 841.55L717.29 846.15L708.89 850.75ZM715.41 839.09L723.81 843.69L715.41 848.29ZM721.93 836.61L730.33 841.21L721.93 845.81ZM728.46 834.12L736.86 838.72L728.46 843.32ZM734.98 831.61L743.38 836.21L734.98 840.81ZM741.5 829.09L749.9 833.69L741.5 838.29ZM748.02 826.56L756.42 831.16L748.02 835.76ZM754.54 824.02L762.94 828.62L754.54 833.22ZM761.06 821.46L769.46 826.06L761.06 830.66ZM767.58 818.89L775.98 823.49L767.58 828.09ZM774.1 816.31L782.5 820.91L774.1 825.51Z' fill='#1c3fa6'/>
</g>
<g clip-path='url(#cd)'>
<polyline points='1001.6,813.12 1008.13,815.02 1014.65,816.92 1021.18,818.83 1027.71,820.75 1034.23,822.68 1040.76,824.63 1047.29,826.58 1053.82,828.55 1060.34,830.53 1066.87,832.53 1073.4,834.55 1079.92,836.58 1086.45,838.62 1092.98,840.69 1099.5,842.77 1106.03,844.88 1112.56,847 1119.08,849.15 1125.61,851.31 1132.14,853.5 1138.67,855.72 1145.19,857.95 1151.72,860.22 1158.25,862.51 1164.77,864.82 1171.3,867.17 1177.83,869.54 1184.35,871.94 1190.88,874.37 1197.41,876.84 1203.93,879.33 1210.46,881.86 1216.99,884.42 1223.52,887.01 1230.04,889.64 1236.57,892.3 1243.1,895 1249.62,897.74 1256.15,900.52 1262.68,903.33 1269.2,906.19 1275.73,909.09 1282.26,912.03 1288.78,915.03 1295.31,918.07 1301.84,921.17 1308.37,924.33 1314.89,927.54 1321.42,930.81 1327.95,934.15 1334.47,937.55 1341,941.02 1347.53,944.56 1354.05,948.17 1360.58,951.86 1367.11,955.62 1373.63,959.47 1380.16,963.4 1386.69,967.41 1393.22,971.51 1399.74,975.7 1406.27,979.98 1412.8,984.36 1419.32,988.83 1425.85,993.41 1432.38,998.08 1438.9,1002.86 1445.43,1007.75 1451.96,1012.74 1458.48,1017.85 1465.01,1023.07 1471.54,1028.41 1478.06,1033.86 1484.59,1039.44 1491.12,1045.15 1497.65,1050.99 1504.17,1056.99 1510.7,1063.16 1517.23,1069.52 1523.75,1076.09 1530.28,1082.88 1536.81,1089.91 1543.33,1097.2 1549.86,1104.75 1556.39,1112.6 1562.91,1120.75 1569.44,1129.22 1575.97,1138.04 1582.5,1147.22 1589.02,1156.79 1595.55,1166.79 1602.08,1177.25 1608.6,1188.19 1615.13,1199.64 1621.66,1211.63 1628.18,1224.19 1634.71,1237.35 1641.24,1251.14 1647.76,1265.58' fill='none' stroke='#1c3fa6' stroke-width='1.1'/>
<path d='M997.85 813.12a3.75 3.75 0 1 0 7.5 0a3.75 3.75 0 1 0 -7.5 0M1004.38 815.02a3.75 3.75 0 1 0 7.5 0a3.75 3.75 0 1 0 -7.5 0M1010.9 816.92a3.75 3.75 0 1 0 7.5 0a3.75 3.75 0 1 0 -7.5 0M1017.43 818.83a3.75 3.75 0 1 0 7.5 0a3.75 3.75 0 1 0 -7.5 0M1023.96 820.75a3.75 3.75 0 1 0 7.5 0a3.75 3.75 0 1 0 -7.5 0M1030.48 822.68a3.75 3.75 0 1 0 7.5 0a3.75 3.75 0 1 0 -7.5 0M1037.01 824.63a3.75 3.75 0 1 0 7.5 0a3.75 3.75 0 1 0 -7.5 0M1043.54 826.58a3.75 3.75 0 1 0 7.5 0a3.75 3.75 0 1 0 -7.5 0M1050.07 828.55a3.75 3.75 0 1 0 7.5 0a3.75 3.75 0 1 0 -7.5 0M1056.59 830.53a3.75 3.75 0 1 0 7.5 0a3.75 3.75 0 1 0 -7.5 0M1063.12 832.53a3.75 3.75 0 1 0 7.5 0a3.75 3.75 0 1 0 -7.5 0M1069.65 834.55a3.75 3.75 0 1 0 7.5 0a3.75 3.75 0 1 0 -7.5 0M1076.17 836.58a3.75 3.75 0 1 0 7.5 0a3.75 3.75 0 1 0 -7.5 0M1082.7 838.62a3.75 3.75 0 1 0 7.5 0a3.75 3.75 0 1 0 -7.5 0M1089.23 840.69a3.75 3.75 0 1 0 7.5 0a3.75 3.75 0 1 0 -7.5 0M1095.75 842.77a3.75 3.75 0 1 0 7.5 0a3.75 3.75 0 1 0 -7.5 0M1102.28 844.88a3.75 3.75 0 1 0 7.5 0a3.75 3.75 0 1 0 -7.5 0M1108.81 847a3.75 3.75 0 1 0 7.5 0a3.75 3.75 0 1 0 -7.5 0M1115.33 849.15a3.75 3.75 0 1 0 7.5 0a3.75 3.75 0 1 0 -7.5 0M1121.86 851.31a3.75 3.75 0 1 0 7.5 0a3.75 3.75 0 1 0 -7.5 0M1128.39 853.5a3.75 3.75 0 1 0 7.5 0a3.75 3.75 0 1 0 -7.5 0M1134.92 855.72a3.75 3.75 0 1 0 7.5 0a3.75 3.75 0 1 0 -7.5 0M1141.44 857.95a3.75 3.75 0 1 0 7.5 0a3.75 3.75 0 1 0 -7.5 0M1147.97 860.22a3.75 3.75 0 1 0 7.5 0a3.75 3.75 0 1 0 -7.5 0M1154.5 862.51a3.75 3.75 0 1 0 7.5 0a3.75 3.75 0 1 0 -7.5 0M1161.02 864.82a3.75 3.75 0 1 0 7.5 0a3.75 3.75 0 1 0 -7.5 0M1167.55 867.17a3.75 3.75 0 1 0 7.5 0a3.75 3.75 0 1 0 -7.5 0M1174.08 869.54a3.75 3.75 0 1 0 7.5 0a3.75 3.75 0 1 0 -7.5 0M1180.6 871.94a3.75 3.75 0 1 0 7.5 0a3.75 3.75 0 1 0 -7.5 0M1187.13 874.37a3.75 3.75 0 1 0 7.5 0a3.75 3.75 0 1 0 -7.5 0M1193.66 876.84a3.75 3.75 0 1 0 7.5 0a3.75 3.75 0 1 0 -7.5 0M1200.18 879.33a3.75 3.75 0 1 0 7.5 0a3.75 3.75 0 1 0 -7.5 0M1206.71 881.86a3.75 3.75 0 1 0 7.5 0a3.75 3.75 0 1 0 -7.5 0M1213.24 884.42a3.75 3.75 0 1 0 7.5 0a3.75 3.75 0 1 0 -7.5 0M1219.77 887.01a3.75 3.75 0 1 0 7.5 0a3.75 3.75 0 1 0 -7.5 0M1226.29 889.64a3.75 3.75 0 1 0 7.5 0a3.75 3.75 0 1 0 -7.5 0M1232.82 892.3a3.75 3.75 0 1 0 7.5 0a3.75 3.75 0 1 0 -7.5 0M1239.35 895a3.75 3.75 0 1 0 7.5 0a3.75 3.75 0 1 0 -7.5 0M1245.87 897.74a3.75 3.75 0 1 0 7.5 0a3.75 3.75 0 1 0 -7.5 0M1252.4 900.52a3.75 3.75 0 1 0 7.5 0a3.75 3.75 0 1 0 -7.5 0M1258.93 903.33a3.75 3.75 0 1 0 7.5 0a3.75 3.75 0 1 0 -7.5 0M1265.45 906.19a3.75 3.75 0 1 0 7.5 0a3.75 3.75 0 1 0 -7.5 0M1271.98 909.09a3.75 3.75 0 1 0 7.5 0a3.75 3.75 0 1 0 -7.5 0M1278.51 912.03a3.75 3.75 0 1 0 7.5 0a3.75 3.75 0 1 0 -7.5 0M1285.03 915.03a3.75 3.75 0 1 0 7.5 0a3.75 3.75 0 1 0 -7.5 0M1291.56 918.07a3.75 3.75 0 1 0 7.5 0a3.75 3.75 0 1 0 -7.5 0M1298.09 921.17a3.75 3.75 0 1 0 7.5 0a3.75 3.75 0 1 0 -7.5 0M1304.62 924.33a3.75 3.75 0 1 0 7.5 0a3.75 3.75 0 1 0 -7.5 0M1311.14 927.54a3.75 3.75 0 1 0 7.5 0a3.75 3.75 0 1 0 -7.5 0M1317.67 930.81a3.75 3.75 0 1 0 7.5 0a3.75 3.75 0 1 0 -7.5 0M1324.2 934.15a3.75 3.75 0 1 0 7.5 0a3.75 3.75 0 1 0 -7.5 0M1330.72 937.55a3.75 3.75 0 1 0 7.5 0a3.75 3.75 0 1 0 -7.5 0M1337.25 941.02a3.75 3.75 0 1 0 7.5 0a3.75 3.75 0 1 0 -7.5 0M1343.78 944.56a3.75 3.75 0 1 0 7.5 0a3.75 3.75 0 1 0 -7.5 0M1350.3 948.17a3.75 3.75 0 1 0 7.5 0a3.75 3.75 0 1 0 -7.5 0M1356.83 951.86a3.75 3.75 0 1 0 7.5 0a3.75 3.75 0 1 0 -7.5 0M1363.36 955.62a3.75 3.75 0 1 0 7.5 0a3.75 3.75 0 1 0 -7.5 0M1369.88 959.47a3.75 3.75 0 1 0 7.5 0a3.75 3.75 0 1 0 -7.5 0M1376.41 963.4a3.75 3.75 0 1 0 7.5 0a3.75 3.75 0 1 0 -7.5 0M1382.94 967.41a3.75 3.75 0 1 0 7.5 0a3.75 3.75 0 1 0 -7.5 0M1389.47 971.51a3.75 3.75 0 1 0 7.5 0a3.75 3.75 0 1 0 -7.5 0M1395.99 975.7a3.75 3.75 0 1 0 7.5 0a3.75 3.75 0 1 0 -7.5 0M1402.52 979.98a3.75 3.75 0 1 0 7.5 0a3.75 3.75 0 1 0 -7.5 0M1409.05 984.36a3.75 3.75 0 1 0 7.5 0a3.75 3.75 0 1 0 -7.5 0M1415.57 988.83a3.75 3.75 0 1 0 7.5 0a3.75 3.75 0 1 0 -7.5 0M1422.1 993.41a3.75 3.75 0 1 0 7.5 0a3.75 3.75 0 1 0 -7.5 0M1428.63 998.08a3.75 3.75 0 1 0 7.5 0a3.75 3.75 0 1 0 -7.5 0M1435.15 1002.86a3.75 3.75 0 1 0 7.5 0a3.75 3.75 0 1 0 -7.5 0M1441.68 1007.75a3.75 3.75 0 1 0 7.5 0a3.75 3.75 0 1 0 -7.5 0M1448.21 1012.74a3.75 3.75 0 1 0 7.5 0a3.75 3.75 0 1 0 -7.5 0M1454.73 1017.85a3.75 3.75 0 1 0 7.5 0a3.75 3.75 0 1 0 -7.5 0M1461.26 1023.07a3.75 3.75 0 1 0 7.5 0a3.75 3.75 0 1 0 -7.5 0M1467.79 1028.41a3.75 3.75 0 1 0 7.5 0a3.75 3.75 0 1 0 -7.5 0M1474.31 1033.86a3.75 3.75 0 1 0 7.5 0a3.75 3.75 0 1 0 -7.5 0M1480.84 1039.44a3.75 3.75 0 1 0 7.5 0a3.75 3.75 0 1 0 -7.5 0M1487.37 1045.15a3.75 3.75 0 1 0 7.5 0a3.75 3.75 0 1 0 -7.5 0M1493.9 1050.99a3.75 3.75 0 1 0 7.5 0a3.75 3.75 0 1 0 -7.5 0M1500.42 1056.99a3.75 3.75 0 1 0 7.5 0a3.75 3.75 0 1 0 -7.5 0M1506.95 1063.16a3.75 3.75 0 1 0 7.5 0a3.75 3.75 0 1 0 -7.5 0M1513.48 1069.52a3.75 3.75 0 1 0 7.5 0a3.75 3.75 0 1 0 -7.5 0M1520 1076.09a3.75 3.75 0 1 0 7.5 0a3.75 3.75 0 1 0 -7.5 0M1526.53 1082.88a3.75 3.75 0 1 0 7.5 0a3.75 3.75 0 1 0 -7.5 0M1533.06 1089.91a3.75 3.75 0 1 0 7.5 0a3.75 3.75 0 1 0 -7.5 0M1539.58 1097.2a3.75 3.75 0 1 0 7.5 0a3.75 3.75 0 1 0 -7.5 0M1546.11 1104.75a3.75 3.75 0 1 0 7.5 0a3.75 3.75 0 1 0 -7.5 0M1552.64 1112.6a3.75 3.75 0 1 0 7.5 0a3.75 3.75 0 1 0 -7.5 0M1559.16 1120.75a3.75 3.75 0 1 0 7.5 0a3.75 3.75 0 1 0 -7.5 0M1565.69 1129.22a3.75 3.75 0 1 0 7.5 0a3.75 3.75 0 1 0 -7.5 0M1572.22 1138.04a3.75 3.75 0 1 0 7.5 0a3.75 3.75 0 1 0 -7.5 0M1578.75 1147.22a3.75 3.75 0 1 0 7.5 0a3.75 3.75 0 1 0 -7.5 0M1585.27 1156.79a3.75 3.75 0 1 0 7.5 0a3.75 3.75 0 1 0 -7.5 0M1591.8 1166.79a3.75 3.75 0 1 0 7.5 0a3.75 3.75 0 1 0 -7.5 0M1598.33 1177.25a3.75 3.75 0 1 0 7.5 0a3.75 3.75 0 1 0 -7.5 0M1604.85 1188.19a3.75 3.75 0 1 0 7.5 0a3.75 3.75 0 1 0 -7.5 0M1611.38 1199.64a3.75 3.75 0 1 0 7.5 0a3.75 3.75 0 1 0 -7.5 0M1617.91 1211.63a3.75 3.75 0 1 0 7.5 0a3.75 3.75 0 1 0 -7.5 0M1624.43 1224.19a3.75 3.75 0 1 0 7.5 0a3.75 3.75 0 1 0 -7.5 0M1630.96 1237.35a3.75 3.75 0 1 0 7.5 0a3.75 3.75 0 1 0 -7.5 0M1637.49 1251.14a3.75 3.75 0 1 0 7.5 0a3.75 3.75 0 1 0 -7.5 0M1644.01 1265.58a3.75 3.75 0 1 0 7.5 0a3.75 3.75 0 1 0 -7.5 0' fill='#1c3fa6'/>
</g>
<rect x='674.3' y='64.8' width='131.5' height='88.6' fill='#000'/><rect x='666.1' y='56.6' width='131.5' height='88.6' fill='#fff' stroke='#6e6e6e' stroke-width='1.4'/>
<line x1='670.6' y1='76.7' x2='734.9' y2='76.7' stroke='#1c3fa6' stroke-width='1.3' opacity='0.75'/><path d='M702.8 72.5L707.4 80.9L698.2 80.9Z' fill='#1c3fa6'/>
<line x1='670.6' y1='119' x2='734.9' y2='119' stroke='#e31e24' stroke-width='1.3' opacity='0.75'/><path d='M698.2 114.8L707.4 114.8L702.8 123.2Z' fill='#e31e24'/>
<text x='743.5' y='86.8' font-family='Liberation Serif' font-size='29' font-style='italic'>W</text><text x='766.1' y='94.9' font-family='Liberation Serif' font-size='20.5'>LC</text>
<text x='743.5' y='128.7' font-family='Liberation Serif' font-size='29' font-style='italic'>W</text><text x='766.5' y='136.8' font-family='Liberation Serif' font-size='20.5'>HC</text>
<rect x='1205' y='68.5' width='119.9' height='95.9' fill='#000'/><rect x='1196.8' y='60.3' width='119.9' height='95.9' fill='#fff' stroke='#6e6e6e' stroke-width='1.4'/>
<line x1='1200.6' y1='83.9' x2='1266.2' y2='83.9' stroke='#1c3fa6' stroke-width='1.3' opacity='0.75'/><circle cx='1233.2' cy='83.9' r='3.8' fill='#1c3fa6'/>
<line x1='1200.6' y1='130' x2='1266.2' y2='130' stroke='#e31e24' stroke-width='1.3' opacity='0.75'/><circle cx='1233.2' cy='130' r='3.8' fill='#e31e24'/>
<text transform='translate(1274.1,94) scale(1.25,1)' font-family='Liberation Serif' font-size='29' font-style='italic'>ε</text><text x='1286.9' y='101.6' font-family='Liberation Serif' font-size='20.5'>LC</text>
<text transform='translate(1274.1,140.2) scale(1.25,1)' font-family='Liberation Serif' font-size='29' font-style='italic'>ε</text><text x='1286.9' y='147.8' font-family='Liberation Serif' font-size='20.5'>HC</text>
<rect x='245.4' y='819.6' width='125.3' height='96.5' fill='#000'/><rect x='237.2' y='811.4' width='125.3' height='96.5' fill='#fff' stroke='#6e6e6e' stroke-width='1.4'/>
<line x1='240.6' y1='835.1' x2='306.6' y2='835.1' stroke='#1c3fa6' stroke-width='1.3' opacity='0.75'/><path d='M270.6 830.5L279 835.1L270.6 839.7Z' fill='#1c3fa6'/>
<line x1='240.6' y1='881.7' x2='306.6' y2='881.7' stroke='#e31e24' stroke-width='1.3' opacity='0.75'/><path d='M270.6 877.1L279 881.7L270.6 886.3Z' fill='#e31e24'/>
<text transform='translate(316.2,845.3) scale(1.15,1)' font-family='Liberation Serif' font-size='29' font-style='italic'>η</text><text x='331.4' y='853.3' font-family='Liberation Serif' font-size='20.5'>LC</text>
<text transform='translate(316.2,891.9) scale(1.15,1)' font-family='Liberation Serif' font-size='29' font-style='italic'>η</text><text x='331.4' y='899' font-family='Liberation Serif' font-size='20.5'>HC</text>
<rect x='1489.2' y='840.1' width='124.4' height='46.6' fill='#000'/><rect x='1481' y='831.9' width='124.4' height='46.6' fill='#fff' stroke='#6e6e6e' stroke-width='1.4'/>
<line x1='1485.4' y1='852.1' x2='1550.8' y2='852.1' stroke='#1c3fa6' stroke-width='1.3' opacity='0.75'/><circle cx='1517.6' cy='852.1' r='3.8' fill='#1c3fa6'/>
<text x='1557' y='862.8' font-family='Liberation Serif' font-size='29' font-style='italic'>q</text><text x='1572.4' y='869.7' font-family='Liberation Serif' font-size='20.5'>m,c</text>
<text x='474.6' y='671.7' font-family='Liberation Serif' font-size='29'><tspan font-style='italic'>τ</tspan>/s</text>
<text x='1334.6' y='673.5' font-family='Liberation Serif' font-size='29'><tspan font-style='italic'>τ</tspan>/s</text>
<text x='468.4' y='1419.2' font-family='Liberation Serif' font-size='29'><tspan font-style='italic'>τ</tspan>/s</text>
<text x='1338.4' y='1422.3' font-family='Liberation Serif' font-size='29'><tspan font-style='italic'>τ</tspan>/s</text>
<text transform='translate(57.9,343.5) rotate(-90)' font-family='Liberation Serif' font-size='29'><tspan font-style='italic'>W</tspan>/kW</text>
<text transform='translate(930.3,308.3) rotate(-90) scale(1.25,1)' font-family='Liberation Serif' font-size='29' font-style='italic' text-anchor='middle'>ε</text>
<text transform='translate(46.4,1048) rotate(-90) scale(1.15,1)' font-family='Liberation Serif' font-size='29' font-style='italic' text-anchor='middle'>η</text>
<text transform='translate(907.8,1117.5) rotate(-90)' font-family='Liberation Serif' font-size='29'><tspan font-style='italic'>q</tspan><tspan font-size='20.5' dy='7.8'>m</tspan><tspan dy='-7.8'>/(kg·s</tspan><tspan font-size='20.5' dy='-13.4'>-1</tspan><tspan dy='13.4'>)</tspan></text>
<text x='387.7' y='723.8' font-family='Liberation Serif' font-size='33'>(a)</text><path transform='translate(434.87,723.41) scale(0.02930,-0.02930)' d='M672 307 661 299C712 253 776 174 794 112C866 64 913 220 672 307ZM810 462 763 403H592V631C616 635 626 644 628 658L527 669V403H274L282 373H527V13H181L189 -16H938C952 -16 961 -11 964 0C931 31 877 75 877 75L830 13H592V373H868C882 373 891 378 894 389C862 420 810 462 810 462ZM868 812 820 753H230L152 789V501C152 308 140 100 35 -67L50 -78C206 87 218 323 218 501V723H928C942 723 953 728 955 739C922 770 868 812 868 812Z' fill='#111'/><path transform='translate(465.7,723.39) scale(0.02930,-0.02930)' d='M585 843 575 836C607 808 641 757 646 716C708 668 767 799 585 843ZM48 69 94 -15C104 -12 112 -2 114 10C218 66 296 114 351 151L347 163C227 122 105 83 48 69ZM285 798 190 837C170 762 112 621 64 561C59 557 41 552 41 552L75 466C82 469 88 474 93 482C135 495 177 510 209 522C166 441 113 357 68 308C61 303 41 299 41 299L76 211C85 214 93 222 100 234C189 266 275 301 319 319L317 333C240 321 162 309 107 302C191 389 281 516 329 604C337 603 344 603 350 605C345 595 345 585 350 575C364 556 397 562 411 579C426 596 435 629 432 671H864L834 600L848 594C871 610 911 642 933 662C952 663 963 664 971 671L902 739L865 700H429C427 713 424 726 420 740L403 741C407 702 388 649 368 630L360 621L276 667C265 636 247 596 226 553C177 550 130 547 93 545C150 611 213 711 249 782C269 780 280 789 285 798ZM831 19H606V184H831ZM606 -57V-10H831V-72H840C860 -72 890 -57 891 -51V361C912 365 928 372 934 380L856 441L821 402H694C710 437 729 485 745 527H923C936 527 946 532 948 543C919 569 874 602 874 602L834 556H519L527 527H679L664 402H611L546 433V-79H556C583 -79 606 -64 606 -57ZM831 214H606V372H831ZM559 600 467 632C427 488 361 341 298 248L313 238C343 269 372 306 400 348V-78H411C433 -78 458 -64 459 -59V406C475 409 486 415 489 424L454 438C479 484 502 532 521 582C543 581 555 589 559 600Z' fill='#111'/><path transform='translate(498.17,723.39) scale(0.02930,-0.02930)' d='M488 767V417C488 223 464 57 317 -68L332 -79C528 42 551 230 551 418V738H742V16C742 -29 753 -48 810 -48H856C944 -48 971 -37 971 -11C971 2 965 9 945 17L941 151H928C920 101 909 34 903 21C899 14 895 13 890 12C884 11 872 11 857 11H826C809 11 806 17 806 33V724C830 728 842 733 849 741L769 810L732 767H564L488 801ZM208 836V617H41L49 587H189C160 437 109 285 35 168L50 157C116 231 169 318 208 414V-78H222C244 -78 271 -63 271 -54V477C310 435 354 374 365 327C432 278 485 414 271 496V587H417C431 587 441 592 442 603C413 633 361 675 361 675L317 617H271V798C297 802 305 811 308 826Z' fill='#111'/><path transform='translate(530.42,723.41) scale(0.02930,-0.02930)' d='M687 818 585 830C585 746 585 665 583 588H391L400 559H582C569 306 513 97 252 -61L265 -78C571 76 632 297 646 559H853C843 266 820 60 781 24C768 13 760 10 739 10C717 10 641 17 596 22L595 4C635 -3 680 -14 695 -25C709 -36 714 -53 714 -74C762 -75 801 -60 830 -29C880 25 907 232 917 551C939 553 952 558 959 566L882 631L843 588H648C650 653 651 721 652 791C676 795 685 804 687 818ZM382 753 337 695H54L62 666H208V226C134 202 74 184 37 174L88 94C98 98 105 107 108 120C276 195 397 257 483 302L478 317L272 247V666H439C453 666 463 671 466 682C434 712 382 753 382 753Z' fill='#111'/><path transform='translate(562.47,723.44) scale(0.02930,-0.02930)' d='M902 599 816 657C776 595 726 534 690 497L702 484C751 508 811 549 862 591C882 584 896 591 902 599ZM117 638 105 630C148 591 199 525 211 471C278 424 329 565 117 638ZM678 462 669 451C741 412 839 338 876 278C953 246 966 402 678 462ZM58 321 110 251C118 256 123 267 125 278C225 350 299 410 353 451L346 464C227 401 106 342 58 321ZM426 847 415 840C449 811 483 759 489 717L492 715H67L76 685H458C430 644 372 572 325 545C319 543 305 539 305 539L341 472C347 474 352 480 357 489C414 496 471 504 517 512C456 451 381 388 318 353C309 349 292 345 292 345L328 274C332 276 337 280 341 285C450 304 555 328 626 345C638 322 646 299 649 278C715 224 775 366 571 447L560 440C579 420 599 394 615 366C521 357 429 349 365 344C472 406 586 494 649 558C670 552 684 559 689 568L611 616C595 595 572 568 545 540C483 539 422 539 375 539C424 569 474 609 506 639C528 635 540 644 544 652L481 685H907C922 685 932 690 935 701C899 734 841 777 841 777L790 715H535C565 738 558 814 426 847ZM864 245 813 182H532V252C554 255 563 264 565 277L465 287V182H42L51 153H465V-77H478C503 -77 532 -63 532 -56V153H931C945 153 955 158 957 169C922 202 864 245 864 245Z' fill='#111'/>
<text x='1245.2' y='723.8' font-family='Liberation Serif' font-size='33'>(b)</text><path transform='translate(1295.47,723.41) scale(0.02930,-0.02930)' d='M672 307 661 299C712 253 776 174 794 112C866 64 913 220 672 307ZM810 462 763 403H592V631C616 635 626 644 628 658L527 669V403H274L282 373H527V13H181L189 -16H938C952 -16 961 -11 964 0C931 31 877 75 877 75L830 13H592V373H868C882 373 891 378 894 389C862 420 810 462 810 462ZM868 812 820 753H230L152 789V501C152 308 140 100 35 -67L50 -78C206 87 218 323 218 501V723H928C942 723 953 728 955 739C922 770 868 812 868 812Z' fill='#111'/><path transform='translate(1327.6,723.39) scale(0.02930,-0.02930)' d='M585 843 575 836C607 808 641 757 646 716C708 668 767 799 585 843ZM48 69 94 -15C104 -12 112 -2 114 10C218 66 296 114 351 151L347 163C227 122 105 83 48 69ZM285 798 190 837C170 762 112 621 64 561C59 557 41 552 41 552L75 466C82 469 88 474 93 482C135 495 177 510 209 522C166 441 113 357 68 308C61 303 41 299 41 299L76 211C85 214 93 222 100 234C189 266 275 301 319 319L317 333C240 321 162 309 107 302C191 389 281 516 329 604C337 603 344 603 350 605C345 595 345 585 350 575C364 556 397 562 411 579C426 596 435 629 432 671H864L834 600L848 594C871 610 911 642 933 662C952 663 963 664 971 671L902 739L865 700H429C427 713 424 726 420 740L403 741C407 702 388 649 368 630L360 621L276 667C265 636 247 596 226 553C177 550 130 547 93 545C150 611 213 711 249 782C269 780 280 789 285 798ZM831 19H606V184H831ZM606 -57V-10H831V-72H840C860 -72 890 -57 891 -51V361C912 365 928 372 934 380L856 441L821 402H694C710 437 729 485 745 527H923C936 527 946 532 948 543C919 569 874 602 874 602L834 556H519L527 527H679L664 402H611L546 433V-79H556C583 -79 606 -64 606 -57ZM831 214H606V372H831ZM559 600 467 632C427 488 361 341 298 248L313 238C343 269 372 306 400 348V-78H411C433 -78 458 -64 459 -59V406C475 409 486 415 489 424L454 438C479 484 502 532 521 582C543 581 555 589 559 600Z' fill='#111'/><path transform='translate(1359.37,723.39) scale(0.02930,-0.02930)' d='M488 767V417C488 223 464 57 317 -68L332 -79C528 42 551 230 551 418V738H742V16C742 -29 753 -48 810 -48H856C944 -48 971 -37 971 -11C971 2 965 9 945 17L941 151H928C920 101 909 34 903 21C899 14 895 13 890 12C884 11 872 11 857 11H826C809 11 806 17 806 33V724C830 728 842 733 849 741L769 810L732 767H564L488 801ZM208 836V617H41L49 587H189C160 437 109 285 35 168L50 157C116 231 169 318 208 414V-78H222C244 -78 271 -63 271 -54V477C310 435 354 374 365 327C432 278 485 414 271 496V587H417C431 587 441 592 442 603C413 633 361 675 361 675L317 617H271V798C297 802 305 811 308 826Z' fill='#111'/><path transform='translate(1391.07,723.41) scale(0.02930,-0.02930)' d='M672 307 661 299C712 253 776 174 794 112C866 64 913 220 672 307ZM810 462 763 403H592V631C616 635 626 644 628 658L527 669V403H274L282 373H527V13H181L189 -16H938C952 -16 961 -11 964 0C931 31 877 75 877 75L830 13H592V373H868C882 373 891 378 894 389C862 420 810 462 810 462ZM868 812 820 753H230L152 789V501C152 308 140 100 35 -67L50 -78C206 87 218 323 218 501V723H928C942 723 953 728 955 739C922 770 868 812 868 812Z' fill='#111'/><path transform='translate(1420.18,723.77) scale(0.02930,-0.02930)' d='M410 546 361 481H222V784C249 788 261 798 264 815L158 826V50C158 30 152 24 120 2L171 -66C177 -61 185 -53 189 -40C315 20 430 81 499 115L494 131C392 95 292 60 222 37V451H472C486 451 496 456 498 467C465 500 410 546 410 546ZM650 813 550 825V46C550 -15 574 -36 657 -36H764C926 -36 964 -25 964 7C964 21 958 28 933 38L930 205H917C905 134 891 61 883 44C878 34 872 31 861 29C846 27 812 26 765 26H666C623 26 614 37 614 63V392C701 429 806 488 899 554C918 544 929 546 938 554L860 631C782 552 689 473 614 419V786C639 790 648 800 650 813Z' fill='#111'/>
<text x='389.6' y='1478.8' font-family='Liberation Serif' font-size='33'>(c)</text><path transform='translate(437.97,1478.91) scale(0.02930,-0.02930)' d='M672 307 661 299C712 253 776 174 794 112C866 64 913 220 672 307ZM810 462 763 403H592V631C616 635 626 644 628 658L527 669V403H274L282 373H527V13H181L189 -16H938C952 -16 961 -11 964 0C931 31 877 75 877 75L830 13H592V373H868C882 373 891 378 894 389C862 420 810 462 810 462ZM868 812 820 753H230L152 789V501C152 308 140 100 35 -67L50 -78C206 87 218 323 218 501V723H928C942 723 953 728 955 739C922 770 868 812 868 812Z' fill='#111'/><path transform='translate(470,1478.89) scale(0.02930,-0.02930)' d='M585 843 575 836C607 808 641 757 646 716C708 668 767 799 585 843ZM48 69 94 -15C104 -12 112 -2 114 10C218 66 296 114 351 151L347 163C227 122 105 83 48 69ZM285 798 190 837C170 762 112 621 64 561C59 557 41 552 41 552L75 466C82 469 88 474 93 482C135 495 177 510 209 522C166 441 113 357 68 308C61 303 41 299 41 299L76 211C85 214 93 222 100 234C189 266 275 301 319 319L317 333C240 321 162 309 107 302C191 389 281 516 329 604C337 603 344 603 350 605C345 595 345 585 350 575C364 556 397 562 411 579C426 596 435 629 432 671H864L834 600L848 594C871 610 911 642 933 662C952 663 963 664 971 671L902 739L865 700H429C427 713 424 726 420 740L403 741C407 702 388 649 368 630L360 621L276 667C265 636 247 596 226 553C177 550 130 547 93 545C150 611 213 711 249 782C269 780 280 789 285 798ZM831 19H606V184H831ZM606 -57V-10H831V-72H840C860 -72 890 -57 891 -51V361C912 365 928 372 934 380L856 441L821 402H694C710 437 729 485 745 527H923C936 527 946 532 948 543C919 569 874 602 874 602L834 556H519L527 527H679L664 402H611L546 433V-79H556C583 -79 606 -64 606 -57ZM831 214H606V372H831ZM559 600 467 632C427 488 361 341 298 248L313 238C343 269 372 306 400 348V-78H411C433 -78 458 -64 459 -59V406C475 409 486 415 489 424L454 438C479 484 502 532 521 582C543 581 555 589 559 600Z' fill='#111'/><path transform='translate(501.87,1478.89) scale(0.02930,-0.02930)' d='M488 767V417C488 223 464 57 317 -68L332 -79C528 42 551 230 551 418V738H742V16C742 -29 753 -48 810 -48H856C944 -48 971 -37 971 -11C971 2 965 9 945 17L941 151H928C920 101 909 34 903 21C899 14 895 13 890 12C884 11 872 11 857 11H826C809 11 806 17 806 33V724C830 728 842 733 849 741L769 810L732 767H564L488 801ZM208 836V617H41L49 587H189C160 437 109 285 35 168L50 157C116 231 169 318 208 414V-78H222C244 -78 271 -63 271 -54V477C310 435 354 374 365 327C432 278 485 414 271 496V587H417C431 587 441 592 442 603C413 633 361 675 361 675L317 617H271V798C297 802 305 811 308 826Z' fill='#111'/><path transform='translate(534.2,1478.83) scale(0.02930,-0.02930)' d='M332 594 322 586C372 547 432 476 447 419C520 373 563 531 332 594ZM278 562 186 601C150 497 91 401 34 343L47 331C120 377 190 454 240 547C261 544 273 552 278 562ZM199 832 188 825C229 788 273 726 282 673C354 624 409 776 199 832ZM483 714 437 657H44L52 627H541C555 627 563 632 566 643C535 673 483 714 483 714ZM735 814 627 837C606 652 558 462 499 332L515 324C550 372 581 429 609 492C626 383 652 281 693 190C633 91 549 4 433 -68L443 -81C564 -23 653 49 720 135C766 51 827 -21 908 -78C918 -48 941 -33 970 -30L973 -20C880 30 809 100 755 184C828 297 867 432 888 587H950C963 587 974 592 976 603C943 634 891 675 891 675L843 616H654C672 672 687 731 699 791C721 792 732 801 735 814ZM645 587H814C800 460 772 344 721 242C676 328 645 427 625 533ZM438 402 338 435C334 392 323 338 300 278C259 308 209 338 149 369L137 360C180 324 231 276 277 225C234 136 162 38 41 -57L54 -73C187 11 267 99 317 179C359 128 395 75 412 30C479 -13 513 97 349 239C376 296 389 346 397 383C421 381 434 391 438 402Z' fill='#111'/><path transform='translate(565.57,1478.94) scale(0.02930,-0.02930)' d='M902 599 816 657C776 595 726 534 690 497L702 484C751 508 811 549 862 591C882 584 896 591 902 599ZM117 638 105 630C148 591 199 525 211 471C278 424 329 565 117 638ZM678 462 669 451C741 412 839 338 876 278C953 246 966 402 678 462ZM58 321 110 251C118 256 123 267 125 278C225 350 299 410 353 451L346 464C227 401 106 342 58 321ZM426 847 415 840C449 811 483 759 489 717L492 715H67L76 685H458C430 644 372 572 325 545C319 543 305 539 305 539L341 472C347 474 352 480 357 489C414 496 471 504 517 512C456 451 381 388 318 353C309 349 292 345 292 345L328 274C332 276 337 280 341 285C450 304 555 328 626 345C638 322 646 299 649 278C715 224 775 366 571 447L560 440C579 420 599 394 615 366C521 357 429 349 365 344C472 406 586 494 649 558C670 552 684 559 689 568L611 616C595 595 572 568 545 540C483 539 422 539 375 539C424 569 474 609 506 639C528 635 540 644 544 652L481 685H907C922 685 932 690 935 701C899 734 841 777 841 777L790 715H535C565 738 558 814 426 847ZM864 245 813 182H532V252C554 255 563 264 565 277L465 287V182H42L51 153H465V-77H478C503 -77 532 -63 532 -56V153H931C945 153 955 158 957 169C922 202 864 245 864 245Z' fill='#111'/>
<text x='1259.6' y='1471.9' font-family='Liberation Serif' font-size='33'>(d)</text><path transform='translate(1303.57,1472.11) scale(0.02930,-0.02930)' d='M672 307 661 299C712 253 776 174 794 112C866 64 913 220 672 307ZM810 462 763 403H592V631C616 635 626 644 628 658L527 669V403H274L282 373H527V13H181L189 -16H938C952 -16 961 -11 964 0C931 31 877 75 877 75L830 13H592V373H868C882 373 891 378 894 389C862 420 810 462 810 462ZM868 812 820 753H230L152 789V501C152 308 140 100 35 -67L50 -78C206 87 218 323 218 501V723H928C942 723 953 728 955 739C922 770 868 812 868 812Z' fill='#111'/><path transform='translate(1335.7,1472.09) scale(0.02930,-0.02930)' d='M585 843 575 836C607 808 641 757 646 716C708 668 767 799 585 843ZM48 69 94 -15C104 -12 112 -2 114 10C218 66 296 114 351 151L347 163C227 122 105 83 48 69ZM285 798 190 837C170 762 112 621 64 561C59 557 41 552 41 552L75 466C82 469 88 474 93 482C135 495 177 510 209 522C166 441 113 357 68 308C61 303 41 299 41 299L76 211C85 214 93 222 100 234C189 266 275 301 319 319L317 333C240 321 162 309 107 302C191 389 281 516 329 604C337 603 344 603 350 605C345 595 345 585 350 575C364 556 397 562 411 579C426 596 435 629 432 671H864L834 600L848 594C871 610 911 642 933 662C952 663 963 664 971 671L902 739L865 700H429C427 713 424 726 420 740L403 741C407 702 388 649 368 630L360 621L276 667C265 636 247 596 226 553C177 550 130 547 93 545C150 611 213 711 249 782C269 780 280 789 285 798ZM831 19H606V184H831ZM606 -57V-10H831V-72H840C860 -72 890 -57 891 -51V361C912 365 928 372 934 380L856 441L821 402H694C710 437 729 485 745 527H923C936 527 946 532 948 543C919 569 874 602 874 602L834 556H519L527 527H679L664 402H611L546 433V-79H556C583 -79 606 -64 606 -57ZM831 214H606V372H831ZM559 600 467 632C427 488 361 341 298 248L313 238C343 269 372 306 400 348V-78H411C433 -78 458 -64 459 -59V406C475 409 486 415 489 424L454 438C479 484 502 532 521 582C543 581 555 589 559 600Z' fill='#111'/><path transform='translate(1367.57,1472.09) scale(0.02930,-0.02930)' d='M488 767V417C488 223 464 57 317 -68L332 -79C528 42 551 230 551 418V738H742V16C742 -29 753 -48 810 -48H856C944 -48 971 -37 971 -11C971 2 965 9 945 17L941 151H928C920 101 909 34 903 21C899 14 895 13 890 12C884 11 872 11 857 11H826C809 11 806 17 806 33V724C830 728 842 733 849 741L769 810L732 767H564L488 801ZM208 836V617H41L49 587H189C160 437 109 285 35 168L50 157C116 231 169 318 208 414V-78H222C244 -78 271 -63 271 -54V477C310 435 354 374 365 327C432 278 485 414 271 496V587H417C431 587 441 592 442 603C413 633 361 675 361 675L317 617H271V798C297 802 305 811 308 826Z' fill='#111'/><path transform='translate(1399.54,1471.97) scale(0.02930,-0.02930)' d='M101 202C90 202 57 202 57 202V180C78 178 93 175 106 166C128 152 134 73 120 -30C122 -61 134 -79 152 -79C187 -79 206 -53 208 -10C212 71 183 117 183 162C183 185 189 216 199 246C212 290 292 507 334 623L316 627C145 256 145 256 127 223C117 202 114 202 101 202ZM52 603 43 594C85 567 137 516 153 474C226 433 264 578 52 603ZM128 825 119 816C162 785 215 729 229 683C302 639 346 787 128 825ZM534 848 524 841C557 810 593 756 598 712C661 663 720 794 534 848ZM838 377 746 387V-3C746 -44 755 -61 809 -61H857C943 -61 968 -48 968 -23C968 -11 964 -4 945 3L942 140H929C920 86 910 22 904 8C901 -1 897 -2 891 -3C887 -4 874 -4 858 -4H825C809 -4 807 0 807 12V352C826 354 836 364 838 377ZM490 375 394 385V261C394 149 370 17 230 -69L241 -83C424 -2 454 142 456 259V351C480 353 487 363 490 375ZM664 375 567 386V-55H579C602 -55 629 -42 629 -35V350C653 353 662 362 664 375ZM874 752 828 693H307L315 663H548C507 609 421 521 353 487C346 483 331 480 331 480L363 402C369 404 374 409 380 416C552 442 705 470 803 488C825 457 842 425 849 396C922 348 967 511 719 599L707 590C734 568 764 539 789 506C640 494 500 483 408 478C485 517 566 572 616 616C638 611 651 619 655 629L584 663H934C947 663 957 668 960 679C928 710 874 752 874 752Z' fill='#111'/><path transform='translate(1430.41,1472.76) scale(0.02930,-0.02930)' d='M52 491 61 462H921C935 462 945 467 947 478C915 507 863 547 863 547L817 491ZM714 656V585H280V656ZM714 686H280V754H714ZM215 783V512H225C251 512 280 527 280 533V556H714V518H724C745 518 778 533 779 539V742C799 746 815 754 822 761L741 824L704 783H286L215 815ZM728 264V188H529V264ZM728 294H529V367H728ZM271 264H465V188H271ZM271 294V367H465V294ZM126 84 135 55H465V-27H51L60 -56H926C941 -56 951 -51 953 -40C918 -9 864 34 864 34L816 -27H529V55H861C874 55 884 60 887 71C856 100 806 138 806 138L762 84H529V159H728V130H738C759 130 792 145 794 151V354C814 358 831 366 837 374L754 438L718 397H277L206 429V112H216C242 112 271 127 271 133V159H465V84Z' fill='#111'/>
</svg></body></html>
